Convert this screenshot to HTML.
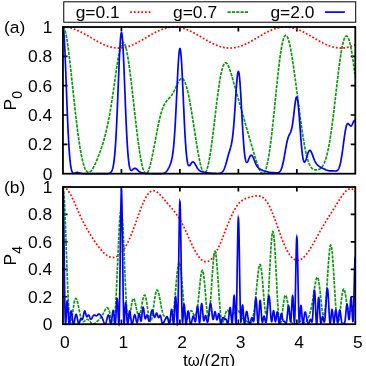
<!DOCTYPE html>
<html lang="en"><head><meta charset="utf-8"><title>chart</title>
<style>html,body{margin:0;padding:0;background:#fff;}body{width:366px;height:366px;overflow:hidden;font-family:"Liberation Sans",sans-serif;}svg{display:block;will-change:transform}</style>
</head><body>
<svg width="366" height="366" viewBox="0 0 366 366" font-family="Liberation Sans, sans-serif" font-size="17.4px" fill="#000">
<rect width="366" height="366" fill="#fff"/>
<path d="M62.95,144.36h4.6 M355.3,144.36h-4.6 M62.95,115.02h4.6 M355.3,115.02h-4.6 M62.95,85.68h4.6 M355.3,85.68h-4.6 M62.95,56.34h4.6 M355.3,56.34h-4.6 M121.42,173.7v-4.6 M121.42,27.0v4.6 M179.89,173.7v-4.6 M179.89,27.0v4.6 M238.36,173.7v-4.6 M238.36,27.0v4.6 M296.83,173.7v-4.6 M296.83,27.0v4.6 " stroke="#000" stroke-width="1.7" fill="none"/>
<g fill="none" stroke-width="1.7" stroke-linejoin="miter" stroke-miterlimit="10">
<path d="M62.95,27.00 L63.65,27.01 L64.47,27.04 L65.17,27.08 L65.99,27.16 L66.69,27.24 L67.51,27.35 L68.33,27.49 L69.15,27.64 L69.85,27.80 L70.67,27.99 L71.49,28.21 L72.31,28.44 L73.12,28.70 L73.94,28.98 L74.76,29.27 L75.58,29.58 L76.40,29.91 L77.22,30.25 L78.04,30.61 L78.97,31.04 L79.91,31.48 L80.84,31.94 L81.78,32.42 L82.71,32.91 L83.65,33.42 L84.58,33.93 L85.52,34.46 L86.57,35.06 L88.68,36.29 L92.54,38.58 L94.06,39.47 L95.69,40.42 L97.21,41.28 L98.85,42.17 L99.67,42.60 L100.49,43.02 L101.31,43.43 L102.01,43.77 L102.83,44.16 L103.53,44.48 L104.46,44.88 L105.28,45.22 L106.22,45.59 L107.04,45.90 L107.85,46.18 L108.67,46.45 L109.49,46.70 L110.31,46.92 L111.13,47.13 L111.95,47.32 L112.77,47.48 L113.59,47.63 L114.40,47.75 L115.22,47.85 L116.04,47.93 L116.74,47.98 L117.56,48.02 L118.38,48.03 L119.20,48.03 L120.02,48.00 L120.84,47.94 L121.65,47.87 L122.47,47.77 L123.41,47.64 L124.23,47.49 L125.16,47.31 L125.98,47.12 L126.92,46.88 L127.73,46.65 L128.67,46.36 L129.49,46.09 L130.42,45.76 L131.24,45.45 L132.18,45.07 L133.11,44.68 L134.05,44.26 L134.99,43.82 L135.92,43.37 L136.86,42.90 L137.91,42.35 L138.84,41.85 L139.78,41.34 L140.83,40.75 L141.88,40.15 L143.99,38.92 L148.08,36.49 L149.72,35.52 L151.47,34.51 L152.99,33.66 L153.93,33.15 L154.75,32.71 L155.68,32.22 L156.50,31.81 L157.32,31.41 L158.14,31.02 L158.96,30.65 L159.66,30.34 L160.59,29.94 L161.53,29.57 L162.47,29.22 L163.40,28.89 L164.34,28.59 L165.16,28.34 L166.09,28.08 L166.91,27.88 L167.85,27.67 L168.66,27.51 L169.60,27.36 L170.42,27.24 L171.35,27.14 L172.17,27.07 L172.99,27.03 L173.81,27.01 L174.63,27.01 L175.33,27.03 L176.15,27.07 L176.97,27.14 L177.79,27.22 L178.60,27.33 L179.42,27.47 L180.24,27.62 L181.06,27.79 L181.88,27.99 L182.70,28.21 L183.52,28.44 L184.33,28.70 L185.15,28.97 L185.97,29.27 L186.91,29.62 L187.72,29.95 L188.54,30.30 L189.36,30.66 L190.30,31.09 L191.12,31.49 L192.05,31.95 L192.99,32.43 L193.92,32.93 L194.74,33.37 L195.68,33.88 L196.61,34.41 L197.66,35.01 L199.65,36.17 L205.03,39.35 L206.67,40.30 L208.07,41.09 L209.71,41.99 L211.23,42.79 L212.05,43.20 L212.75,43.55 L213.45,43.89 L214.15,44.21 L215.09,44.63 L215.91,44.98 L216.73,45.32 L217.54,45.64 L218.36,45.94 L219.18,46.22 L220.00,46.49 L220.70,46.70 L221.52,46.93 L222.22,47.11 L223.04,47.30 L223.74,47.44 L224.56,47.60 L225.26,47.71 L226.08,47.82 L226.78,47.90 L227.72,47.97 L228.54,48.02 L229.36,48.04 L230.29,48.04 L231.11,48.01 L232.05,47.95 L232.98,47.86 L233.92,47.74 L234.73,47.62 L235.67,47.45 L236.61,47.25 L237.54,47.03 L238.48,46.78 L239.41,46.50 L240.35,46.20 L241.28,45.87 L242.22,45.52 L243.15,45.15 L244.09,44.76 L245.03,44.35 L245.96,43.92 L247.01,43.41 L247.95,42.94 L249.00,42.40 L249.94,41.90 L250.99,41.33 L252.04,40.74 L253.09,40.14 L255.32,38.84 L259.41,36.41 L261.05,35.45 L262.80,34.44 L264.32,33.59 L265.26,33.07 L266.07,32.64 L266.89,32.21 L267.71,31.80 L268.53,31.39 L269.23,31.06 L270.05,30.68 L270.75,30.37 L271.69,29.97 L272.62,29.60 L273.56,29.24 L274.38,28.95 L275.31,28.65 L276.13,28.39 L277.07,28.13 L277.89,27.93 L278.82,27.71 L279.64,27.55 L280.46,27.41 L281.28,27.29 L282.10,27.19 L282.91,27.11 L283.73,27.06 L284.55,27.02 L285.49,27.01 L286.31,27.03 L287.12,27.07 L288.06,27.14 L288.88,27.22 L289.81,27.35 L290.63,27.48 L291.57,27.65 L292.39,27.83 L293.32,28.06 L294.26,28.31 L295.19,28.59 L296.13,28.90 L297.06,29.23 L298.00,29.58 L298.93,29.96 L299.75,30.30 L300.57,30.66 L301.39,31.04 L302.21,31.43 L303.03,31.83 L303.96,32.31 L304.90,32.80 L305.83,33.31 L307.47,34.22 L309.34,35.29 L311.10,36.32 L315.66,39.02 L317.06,39.84 L318.23,40.51 L319.63,41.30 L320.92,42.00 L322.09,42.62 L323.26,43.21 L323.96,43.56 L324.66,43.90 L325.95,44.48 L326.65,44.79 L327.23,45.04 L328.40,45.51 L329.11,45.77 L329.69,45.98 L330.27,46.18 L330.86,46.37 L331.44,46.56 L332.03,46.73 L332.61,46.89 L333.20,47.05 L333.90,47.22 L334.60,47.37 L335.30,47.51 L336.00,47.63 L336.71,47.74 L337.41,47.83 L338.11,47.91 L338.69,47.96 L339.40,48.00 L340.10,48.03 L340.80,48.04 L341.38,48.04 L341.97,48.02 L342.67,47.99 L343.37,47.94 L344.07,47.88 L344.66,47.81 L345.36,47.72 L346.06,47.60 L346.76,47.48 L347.47,47.33 L348.17,47.17 L348.87,47.00 L349.57,46.81 L350.27,46.61 L350.97,46.39 L351.67,46.16 L352.38,45.91 L353.08,45.65 L353.78,45.38 L354.48,45.10 L355.30,44.75" stroke="#ff0000" stroke-dasharray="1.7 2.0"/>
<path d="M62.95,27.00 L63.07,27.01 L63.18,27.05 L63.30,27.10 L63.42,27.18 L63.53,27.28 L63.65,27.41 L63.77,27.56 L63.89,27.72 L64.00,27.92 L64.12,28.13 L64.24,28.37 L64.35,28.62 L64.47,28.90 L64.70,29.53 L64.94,30.24 L65.05,30.63 L65.29,31.47 L65.52,32.38 L65.64,32.87 L65.87,33.91 L66.22,35.61 L66.58,37.48 L66.81,38.82 L67.16,40.95 L67.51,43.22 L67.86,45.63 L68.33,49.04 L68.56,50.82 L68.91,53.58 L69.50,58.39 L69.85,61.39 L70.20,64.46 L70.78,69.71 L71.37,75.09 L73.71,97.05 L74.64,105.69 L75.23,110.96 L75.70,115.08 L76.16,119.11 L76.63,123.04 L77.22,127.78 L77.68,131.43 L78.15,134.95 L78.62,138.33 L79.09,141.56 L79.56,144.64 L80.02,147.57 L80.49,150.33 L80.84,152.30 L81.08,153.56 L81.31,154.77 L81.54,155.95 L81.78,157.08 L82.01,158.18 L82.25,159.23 L82.48,160.23 L82.71,161.20 L82.95,162.12 L83.18,163.00 L83.41,163.84 L83.65,164.64 L83.88,165.39 L84.12,166.10 L84.35,166.77 L84.58,167.41 L84.82,168.00 L85.05,168.55 L85.29,169.06 L85.52,169.53 L85.75,169.96 L85.99,170.36 L86.10,170.54 L86.34,170.88 L86.57,171.18 L86.81,171.45 L87.04,171.68 L87.27,171.87 L87.51,172.04 L87.74,172.16 L87.98,172.26 L88.09,172.30 L88.33,172.35 L88.44,172.36 L88.68,172.37 L88.79,172.36 L89.03,172.32 L89.14,172.30 L89.38,172.22 L89.61,172.11 L89.85,171.98 L89.96,171.91 L90.20,171.74 L90.31,171.65 L90.55,171.45 L90.90,171.11 L91.13,170.85 L91.37,170.58 L91.72,170.13 L91.95,169.81 L92.19,169.48 L92.42,169.12 L92.65,168.75 L93.12,167.97 L93.59,167.14 L93.82,166.70 L94.17,166.02 L94.64,165.08 L95.23,163.85 L95.81,162.56 L96.51,160.95 L97.10,159.56 L97.80,157.84 L98.50,156.06 L99.20,154.22 L99.90,152.32 L100.49,150.68 L101.07,149.00 L101.66,147.27 L102.24,145.48 L102.83,143.62 L103.41,141.69 L103.88,140.09 L104.35,138.44 L104.81,136.72 L105.17,135.39 L105.52,134.02 L105.87,132.62 L106.22,131.17 L106.57,129.67 L106.92,128.13 L107.27,126.54 L107.62,124.91 L107.97,123.22 L108.32,121.48 L108.91,118.46 L109.49,115.29 L109.84,113.32 L110.19,111.29 L110.66,108.51 L111.25,104.91 L111.83,101.17 L112.42,97.31 L112.88,94.15 L113.47,90.13 L115.34,77.00 L115.92,72.93 L116.51,68.96 L116.98,65.87 L117.44,62.88 L117.91,60.01 L118.38,57.30 L118.61,56.00 L118.85,54.75 L119.20,52.97 L119.43,51.84 L119.67,50.77 L119.90,49.75 L120.25,48.34 L120.48,47.48 L120.72,46.67 L120.95,45.94 L121.19,45.27 L121.30,44.96 L121.54,44.40 L121.77,43.91 L121.89,43.69 L122.00,43.49 L122.12,43.31 L122.24,43.14 L122.36,43.00 L122.47,42.87 L122.59,42.77 L122.71,42.68 L122.82,42.61 L122.94,42.56 L123.06,42.53 L123.17,42.51 L123.29,42.52 L123.41,42.55 L123.52,42.59 L123.64,42.66 L123.76,42.74 L123.88,42.85 L123.99,42.97 L124.11,43.11 L124.23,43.28 L124.34,43.46 L124.46,43.66 L124.58,43.87 L124.69,44.11 L124.93,44.64 L125.05,44.94 L125.28,45.58 L125.40,45.93 L125.63,46.68 L125.75,47.09 L125.98,47.94 L126.10,48.40 L126.33,49.36 L126.68,50.93 L127.03,52.65 L127.38,54.50 L127.73,56.49 L128.09,58.60 L128.44,60.83 L128.67,62.39 L129.02,64.80 L129.37,67.32 L129.72,69.93 L130.07,72.63 L130.42,75.40 L131.13,81.15 L131.71,86.11 L132.41,92.22 L134.75,113.06 L135.69,121.28 L136.15,125.30 L136.62,129.25 L137.09,133.11 L137.44,135.93 L137.91,139.59 L138.26,142.25 L138.73,145.68 L139.08,148.15 L139.55,151.29 L139.90,153.54 L140.25,155.69 L140.60,157.73 L140.95,159.66 L141.30,161.47 L141.65,163.17 L142.00,164.75 L142.35,166.19 L142.70,167.52 L142.94,168.33 L143.05,168.71 L143.29,169.43 L143.52,170.10 L143.64,170.41 L143.87,170.98 L143.99,171.25 L144.22,171.73 L144.34,171.95 L144.57,172.35 L144.69,172.53 L144.81,172.69 L144.92,172.83 L145.04,172.96 L145.16,173.08 L145.28,173.18 L145.39,173.27 L145.51,173.34 L145.63,173.40 L145.74,173.44 L145.86,173.47 L145.98,173.48 L146.09,173.48 L146.21,173.46 L146.33,173.43 L146.45,173.39 L146.56,173.33 L146.68,173.26 L146.80,173.17 L146.91,173.07 L147.03,172.96 L147.15,172.83 L147.26,172.69 L147.50,172.37 L147.73,172.00 L147.85,171.79 L148.08,171.34 L148.32,170.84 L148.43,170.57 L148.67,170.00 L148.90,169.38 L149.25,168.36 L149.49,167.63 L149.84,166.46 L150.07,165.62 L150.42,164.31 L150.66,163.38 L150.89,162.42 L151.12,161.44 L151.47,159.89 L151.71,158.83 L152.06,157.19 L152.64,154.34 L153.23,151.38 L153.81,148.32 L154.40,145.20 L156.03,136.39 L156.97,131.46 L157.44,129.07 L157.91,126.73 L158.37,124.47 L158.84,122.30 L159.43,119.70 L159.89,117.73 L160.36,115.86 L160.83,114.10 L161.30,112.46 L161.53,111.68 L161.76,110.92 L162.00,110.20 L162.23,109.50 L162.47,108.83 L162.70,108.19 L163.05,107.28 L163.40,106.43 L163.75,105.63 L164.10,104.89 L164.45,104.21 L164.80,103.57 L165.16,102.98 L165.39,102.61 L165.62,102.26 L165.97,101.76 L166.32,101.30 L166.68,100.86 L167.03,100.45 L167.38,100.06 L167.73,99.69 L169.01,98.35 L169.48,97.86 L169.95,97.35 L170.42,96.80 L170.89,96.22 L171.35,95.60 L171.82,94.93 L172.29,94.21 L172.76,93.44 L173.22,92.62 L173.69,91.75 L174.16,90.83 L174.63,89.88 L175.10,88.90 L176.73,85.36 L177.32,84.12 L177.67,83.40 L178.02,82.72 L178.37,82.06 L178.60,81.64 L178.95,81.06 L179.31,80.52 L179.66,80.03 L179.89,79.74 L180.01,79.61 L180.24,79.36 L180.36,79.25 L180.59,79.05 L180.83,78.88 L180.94,78.81 L181.18,78.69 L181.29,78.65 L181.41,78.61 L181.53,78.58 L181.64,78.56 L181.76,78.56 L181.88,78.56 L181.99,78.57 L182.11,78.59 L182.23,78.62 L182.35,78.66 L182.46,78.71 L182.58,78.77 L182.70,78.84 L182.81,78.92 L182.93,79.01 L183.16,79.22 L183.40,79.48 L183.52,79.62 L183.75,79.94 L183.87,80.11 L183.98,80.30 L184.22,80.70 L184.33,80.92 L184.57,81.38 L184.68,81.63 L184.92,82.16 L185.27,83.03 L185.50,83.66 L185.74,84.33 L186.09,85.41 L186.44,86.58 L186.79,87.83 L187.02,88.72 L187.26,89.64 L187.61,91.08 L188.08,93.12 L188.43,94.73 L188.89,96.99 L189.25,98.76 L189.71,101.21 L190.18,103.76 L190.65,106.40 L191.12,109.13 L191.58,111.92 L192.05,114.78 L192.52,117.68 L193.46,123.62 L195.79,138.68 L196.50,143.10 L197.08,146.68 L197.78,150.83 L198.13,152.83 L198.48,154.77 L198.83,156.64 L199.07,157.85 L199.42,159.59 L199.65,160.71 L200.00,162.32 L200.35,163.84 L200.71,165.26 L201.06,166.57 L201.41,167.77 L201.76,168.87 L201.99,169.53 L202.11,169.84 L202.34,170.42 L202.58,170.94 L202.69,171.18 L202.93,171.62 L203.04,171.81 L203.16,171.99 L203.28,172.16 L203.39,172.31 L203.51,172.45 L203.63,172.57 L203.75,172.67 L203.86,172.76 L203.98,172.83 L204.10,172.89 L204.21,172.94 L204.33,172.96 L204.45,172.97 L204.56,172.97 L204.68,172.95 L204.80,172.91 L204.92,172.85 L205.03,172.78 L205.15,172.70 L205.27,172.60 L205.38,172.48 L205.50,172.34 L205.62,172.19 L205.73,172.02 L205.85,171.84 L206.08,171.42 L206.32,170.94 L206.44,170.68 L206.67,170.10 L206.79,169.79 L207.02,169.12 L207.14,168.76 L207.37,167.99 L207.60,167.16 L207.96,165.80 L208.31,164.30 L208.66,162.68 L208.89,161.52 L209.24,159.69 L209.59,157.73 L209.94,155.66 L210.18,154.21 L210.53,151.96 L210.76,150.41 L211.11,147.99 L211.70,143.78 L212.05,141.14 L212.40,138.44 L212.98,133.80 L213.69,128.07 L215.67,111.38 L216.49,104.61 L216.96,100.83 L217.31,98.05 L217.66,95.34 L218.01,92.69 L218.48,89.28 L218.83,86.83 L219.18,84.47 L219.53,82.21 L219.88,80.05 L220.23,78.01 L220.59,76.08 L220.94,74.28 L221.17,73.14 L221.40,72.07 L221.75,70.56 L222.11,69.18 L222.34,68.34 L222.46,67.94 L222.69,67.19 L222.81,66.83 L222.92,66.49 L223.16,65.86 L223.27,65.57 L223.51,65.02 L223.63,64.77 L223.86,64.32 L223.98,64.12 L224.21,63.75 L224.33,63.59 L224.44,63.44 L224.56,63.31 L224.68,63.19 L224.79,63.09 L224.91,63.00 L225.03,62.93 L225.15,62.86 L225.26,62.82 L225.38,62.78 L225.50,62.76 L225.61,62.75 L225.73,62.76 L225.85,62.78 L225.96,62.81 L226.08,62.85 L226.20,62.91 L226.32,62.97 L226.43,63.05 L226.55,63.15 L226.67,63.25 L226.90,63.49 L227.13,63.78 L227.37,64.10 L227.60,64.47 L227.84,64.88 L228.07,65.32 L228.30,65.80 L228.54,66.32 L228.89,67.14 L229.12,67.73 L229.36,68.35 L229.59,68.99 L229.94,69.99 L230.17,70.69 L230.53,71.77 L230.88,72.88 L231.23,74.03 L231.93,76.40 L232.63,78.84 L235.20,87.97 L236.49,92.50 L237.54,96.16 L240.00,104.64 L241.40,109.54 L242.92,114.92 L246.66,128.28 L247.72,131.99 L248.77,135.66 L249.82,139.28 L250.99,143.25 L252.51,148.38 L253.91,153.08 L254.85,156.18 L255.55,158.48 L256.13,160.35 L256.72,162.17 L257.19,163.59 L257.66,164.96 L258.12,166.27 L258.59,167.51 L258.82,168.10 L259.06,168.67 L259.41,169.48 L259.76,170.24 L260.11,170.93 L260.46,171.55 L260.70,171.93 L260.81,172.11 L261.05,172.43 L261.16,172.58 L261.40,172.86 L261.51,172.98 L261.75,173.19 L261.86,173.28 L261.98,173.37 L262.10,173.44 L262.22,173.50 L262.33,173.55 L262.45,173.59 L262.57,173.61 L262.68,173.63 L262.80,173.64 L262.92,173.63 L263.03,173.61 L263.15,173.58 L263.27,173.54 L263.39,173.48 L263.50,173.42 L263.62,173.34 L263.74,173.25 L263.85,173.14 L263.97,173.03 L264.09,172.89 L264.20,172.75 L264.32,172.59 L264.44,172.42 L264.67,172.04 L264.91,171.61 L265.14,171.12 L265.26,170.85 L265.49,170.28 L265.61,169.97 L265.84,169.31 L265.96,168.96 L266.19,168.22 L266.43,167.41 L266.78,166.10 L267.13,164.66 L267.48,163.08 L267.83,161.37 L268.18,159.54 L268.53,157.58 L268.76,156.20 L269.00,154.77 L269.35,152.51 L269.70,150.14 L270.05,147.65 L270.52,144.16 L270.87,141.41 L271.22,138.57 L271.57,135.63 L272.04,131.57 L272.39,128.43 L272.74,125.22 L273.56,117.48 L274.38,109.49 L276.48,88.61 L277.07,82.93 L277.65,77.40 L278.24,72.05 L278.82,66.94 L279.17,64.01 L279.41,62.11 L279.76,59.35 L279.99,57.58 L280.34,55.04 L280.69,52.62 L281.04,50.35 L281.28,48.91 L281.63,46.88 L281.98,45.01 L282.33,43.29 L282.56,42.24 L282.80,41.26 L282.91,40.79 L283.15,39.92 L283.26,39.52 L283.50,38.76 L283.62,38.41 L283.85,37.76 L284.08,37.19 L284.20,36.93 L284.32,36.69 L284.43,36.47 L284.55,36.27 L284.67,36.09 L284.79,35.93 L284.90,35.78 L285.02,35.65 L285.14,35.55 L285.25,35.46 L285.37,35.39 L285.49,35.34 L285.60,35.30 L285.72,35.28 L285.84,35.29 L285.95,35.31 L286.07,35.34 L286.19,35.40 L286.31,35.47 L286.42,35.56 L286.54,35.67 L286.66,35.80 L286.77,35.94 L286.89,36.10 L287.01,36.27 L287.12,36.47 L287.24,36.67 L287.47,37.14 L287.71,37.67 L287.94,38.26 L288.06,38.58 L288.29,39.26 L288.41,39.63 L288.64,40.40 L289.00,41.66 L289.23,42.56 L289.46,43.52 L289.81,45.05 L290.05,46.13 L290.28,47.26 L290.52,48.43 L290.75,49.65 L291.22,52.20 L291.57,54.21 L291.92,56.31 L292.27,58.48 L292.74,61.47 L293.09,63.80 L293.56,66.98 L293.91,69.43 L294.37,72.77 L295.19,78.77 L296.01,84.95 L296.83,91.23 L298.82,106.62 L299.87,114.63 L300.46,118.99 L300.92,122.41 L301.39,125.75 L301.86,129.01 L302.44,132.96 L302.91,136.00 L303.38,138.93 L303.85,141.74 L304.31,144.42 L304.78,146.97 L305.25,149.37 L305.60,151.08 L306.07,153.23 L306.30,154.24 L306.54,155.22 L306.89,156.62 L307.12,157.51 L307.35,158.36 L307.71,159.56 L307.94,160.32 L308.17,161.04 L308.41,161.72 L308.64,162.37 L308.87,162.99 L309.11,163.57 L309.34,164.11 L309.58,164.63 L309.81,165.11 L310.04,165.56 L310.28,165.99 L310.51,166.38 L310.75,166.75 L310.98,167.09 L311.21,167.40 L311.45,167.69 L311.68,167.96 L312.03,168.32 L312.27,168.54 L312.50,168.73 L312.73,168.91 L313.08,169.14 L313.32,169.28 L313.55,169.40 L313.79,169.50 L314.14,169.64 L314.37,169.71 L314.60,169.78 L314.84,169.83 L315.19,169.90 L315.42,169.93 L315.77,169.95 L316.01,169.96 L316.36,169.96 L316.71,169.95 L317.06,169.91 L317.41,169.86 L317.65,169.82 L318.00,169.74 L318.23,169.67 L318.46,169.60 L318.70,169.52 L319.05,169.38 L319.28,169.27 L319.52,169.15 L319.75,169.02 L319.98,168.88 L320.22,168.72 L320.45,168.56 L320.69,168.37 L320.92,168.17 L321.15,167.96 L321.39,167.72 L321.62,167.47 L321.86,167.20 L322.09,166.91 L322.44,166.44 L322.79,165.91 L323.14,165.33 L323.49,164.70 L323.84,164.00 L324.19,163.25 L324.54,162.42 L324.90,161.53 L325.25,160.57 L325.60,159.53 L325.95,158.42 L326.30,157.23 L326.65,155.96 L327.00,154.60 L327.23,153.65 L327.59,152.15 L327.82,151.10 L328.17,149.45 L328.40,148.31 L328.87,145.89 L329.11,144.63 L329.46,142.65 L329.69,141.29 L330.04,139.17 L330.27,137.70 L330.63,135.44 L330.86,133.88 L331.21,131.47 L331.80,127.29 L332.26,123.79 L332.85,119.25 L333.32,115.49 L333.90,110.66 L334.84,102.71 L337.17,82.41 L337.76,77.45 L338.34,72.62 L338.93,67.96 L339.40,64.38 L339.75,61.79 L339.98,60.12 L340.45,56.90 L340.80,54.60 L341.03,53.14 L341.27,51.72 L341.50,50.36 L341.85,48.42 L342.09,47.20 L342.32,46.04 L342.55,44.93 L342.90,43.39 L343.14,42.44 L343.37,41.55 L343.61,40.73 L343.84,39.97 L343.96,39.62 L344.19,38.96 L344.42,38.37 L344.66,37.84 L344.89,37.38 L345.01,37.17 L345.13,36.98 L345.24,36.81 L345.36,36.65 L345.48,36.52 L345.59,36.39 L345.71,36.29 L345.83,36.20 L345.94,36.13 L346.06,36.07 L346.18,36.04 L346.30,36.01 L346.41,36.01 L346.53,36.02 L346.65,36.05 L346.76,36.09 L346.88,36.15 L347.00,36.23 L347.11,36.32 L347.23,36.43 L347.35,36.56 L347.47,36.70 L347.58,36.86 L347.70,37.03 L347.82,37.23 L348.05,37.65 L348.17,37.89 L348.40,38.41 L348.63,39.00 L348.75,39.31 L348.99,39.98 L349.10,40.34 L349.34,41.11 L349.69,42.36 L349.92,43.27 L350.27,44.74 L350.62,46.34 L350.97,48.05 L351.32,49.89 L351.67,51.84 L352.03,53.90 L352.38,56.06 L352.73,58.33 L353.08,60.70 L353.43,63.17 L353.78,65.72 L354.13,68.37 L354.48,71.09 L354.83,73.90 L355.30,77.74" stroke="#109610" stroke-dasharray="3.2 1.1"/>
<path d="M62.95,27.00 L63.07,27.09 L63.18,27.37 L63.30,27.83 L63.42,28.48 L63.53,29.30 L63.65,30.30 L63.77,31.47 L63.89,32.81 L64.00,34.32 L64.12,35.98 L64.24,37.79 L64.35,39.75 L64.59,44.07 L64.70,46.42 L64.94,51.46 L65.17,56.89 L65.41,62.64 L65.76,71.70 L66.69,96.83 L67.04,106.02 L67.39,114.80 L67.74,123.06 L67.98,128.23 L68.21,133.10 L68.45,137.65 L68.56,139.81 L68.80,143.89 L68.91,145.81 L69.03,147.64 L69.26,151.08 L69.38,152.67 L69.62,155.64 L69.85,158.31 L70.08,160.69 L70.32,162.80 L70.55,164.66 L70.67,165.50 L70.78,166.28 L70.90,167.01 L71.02,167.68 L71.14,168.31 L71.25,168.88 L71.37,169.41 L71.49,169.90 L71.60,170.34 L71.72,170.75 L71.84,171.11 L71.95,171.44 L72.07,171.74 L72.19,172.00 L72.31,172.24 L72.42,172.45 L72.54,172.63 L72.66,172.79 L72.77,172.92 L72.89,173.03 L73.01,173.13 L73.12,173.20 L73.24,173.26 L73.36,173.31 L73.47,173.34 L73.59,173.35 L73.71,173.36 L73.83,173.36 L74.06,173.33 L74.29,173.27 L74.53,173.19 L74.76,173.10 L75.58,172.76 L75.81,172.67 L76.05,172.60 L76.40,172.51 L76.63,172.47 L76.87,172.44 L77.22,172.43 L77.45,172.44 L77.68,172.46 L77.92,172.49 L78.27,172.56 L78.50,172.61 L78.85,172.70 L79.91,173.01 L80.37,173.13 L80.96,173.27 L81.43,173.36 L81.89,173.43 L82.48,173.49 L83.18,173.55 L83.88,173.58 L84.82,173.61 L86.22,173.63 L87.98,173.66 L89.50,173.67 L95.46,173.69 L102.24,173.70 L104.35,173.69 L105.87,173.67 L106.45,173.66 L107.04,173.64 L107.50,173.61 L107.85,173.58 L108.32,173.52 L108.67,173.47 L109.02,173.39 L109.38,173.29 L109.73,173.16 L109.96,173.04 L110.19,172.91 L110.31,172.83 L110.54,172.65 L110.78,172.44 L111.01,172.19 L111.25,171.89 L111.36,171.72 L111.48,171.54 L111.60,171.34 L111.71,171.12 L111.83,170.88 L111.95,170.63 L112.06,170.35 L112.18,170.06 L112.30,169.74 L112.42,169.39 L112.53,169.02 L112.65,168.61 L112.77,168.18 L112.88,167.72 L113.00,167.22 L113.23,166.12 L113.47,164.86 L113.70,163.42 L113.94,161.79 L114.05,160.89 L114.29,158.94 L114.52,156.75 L114.75,154.32 L114.87,153.00 L115.11,150.16 L115.22,148.63 L115.46,145.36 L115.57,143.61 L115.81,139.89 L115.92,137.92 L116.16,133.75 L116.51,126.94 L116.86,119.50 L117.21,111.50 L117.56,103.05 L118.61,76.44 L119.08,65.01 L119.43,57.06 L119.67,52.18 L119.78,49.90 L120.02,45.68 L120.13,43.75 L120.25,41.97 L120.37,40.32 L120.48,38.82 L120.60,37.47 L120.72,36.29 L120.84,35.26 L120.95,34.41 L121.07,33.72 L121.19,33.21 L121.30,32.87 L121.42,32.71 L121.54,32.73 L121.65,32.92 L121.77,33.29 L121.89,33.84 L122.00,34.56 L122.12,35.45 L122.24,36.50 L122.36,37.73 L122.47,39.11 L122.59,40.64 L122.71,42.32 L122.82,44.15 L123.06,48.20 L123.17,50.41 L123.41,55.16 L123.64,60.31 L123.88,65.78 L124.34,77.41 L125.16,98.59 L125.51,107.47 L125.86,115.97 L126.21,123.98 L126.57,131.39 L126.80,135.96 L126.92,138.13 L127.15,142.24 L127.27,144.17 L127.38,146.02 L127.62,149.48 L127.73,151.09 L127.97,154.08 L128.20,156.76 L128.44,159.15 L128.55,160.23 L128.79,162.19 L128.90,163.08 L129.02,163.90 L129.14,164.65 L129.25,165.35 L129.37,166.00 L129.49,166.58 L129.61,167.12 L129.72,167.60 L129.84,168.04 L129.96,168.43 L130.07,168.78 L130.19,169.08 L130.31,169.35 L130.42,169.58 L130.54,169.77 L130.66,169.93 L130.78,170.07 L130.89,170.17 L131.01,170.25 L131.13,170.30 L131.24,170.33 L131.36,170.34 L131.48,170.33 L131.59,170.31 L131.71,170.27 L131.83,170.21 L131.94,170.15 L132.18,169.99 L132.41,169.80 L133.11,169.18 L133.46,168.89 L133.70,168.72 L133.82,168.64 L134.05,168.51 L134.28,168.41 L134.40,168.37 L134.52,168.34 L134.63,168.32 L134.75,168.31 L134.87,168.30 L134.99,168.31 L135.10,168.32 L135.22,168.35 L135.34,168.38 L135.57,168.46 L135.69,168.52 L135.92,168.65 L136.04,168.72 L136.27,168.89 L136.51,169.08 L136.86,169.39 L137.21,169.72 L138.14,170.64 L138.61,171.08 L138.96,171.37 L139.19,171.55 L139.55,171.80 L139.78,171.96 L140.01,172.09 L140.36,172.28 L140.60,172.38 L140.95,172.52 L141.30,172.64 L141.65,172.74 L142.00,172.83 L142.47,172.92 L142.82,172.98 L143.29,173.05 L144.22,173.17 L145.39,173.28 L146.56,173.37 L147.61,173.43 L148.78,173.48 L152.88,173.60 L154.40,173.64 L156.03,173.65 L157.79,173.66 L159.07,173.65 L160.13,173.62 L161.18,173.58 L162.00,173.52 L162.35,173.49 L162.70,173.45 L163.05,173.40 L163.28,173.35 L163.64,173.27 L163.87,173.21 L164.10,173.13 L164.34,173.04 L164.57,172.94 L164.80,172.83 L165.04,172.69 L165.27,172.54 L165.62,172.27 L165.86,172.07 L166.09,171.85 L166.44,171.48 L166.79,171.05 L167.03,170.74 L167.26,170.41 L167.49,170.06 L167.73,169.68 L167.96,169.29 L168.20,168.88 L168.43,168.45 L168.66,168.00 L168.90,167.53 L169.13,167.05 L169.37,166.54 L169.60,166.01 L169.95,165.18 L170.30,164.27 L170.65,163.28 L170.89,162.56 L171.00,162.18 L171.24,161.37 L171.47,160.49 L171.59,160.01 L171.82,158.99 L172.06,157.87 L172.29,156.62 L172.52,155.24 L172.76,153.70 L172.99,151.98 L173.22,150.08 L173.46,147.98 L173.69,145.65 L173.93,143.10 L174.04,141.73 L174.28,138.80 L174.39,137.24 L174.51,135.62 L174.74,132.18 L175.10,126.54 L175.45,120.35 L175.80,113.66 L176.15,106.57 L176.50,99.19 L177.20,84.17 L177.67,74.56 L178.02,67.91 L178.25,63.85 L178.37,61.96 L178.60,58.49 L178.72,56.92 L178.84,55.47 L178.95,54.14 L179.07,52.95 L179.19,51.90 L179.31,50.98 L179.42,50.21 L179.54,49.59 L179.66,49.11 L179.77,48.79 L179.89,48.63 L180.01,48.62 L180.12,48.76 L180.24,49.06 L180.36,49.52 L180.47,50.13 L180.59,50.89 L180.71,51.79 L180.83,52.85 L180.94,54.04 L181.06,55.37 L181.18,56.83 L181.29,58.42 L181.41,60.13 L181.53,61.96 L181.76,65.93 L181.99,70.28 L182.23,74.95 L182.46,79.87 L182.70,85.00 L183.75,108.90 L184.22,119.10 L184.45,123.93 L184.68,128.55 L184.92,132.92 L185.15,137.02 L185.39,140.85 L185.50,142.65 L185.74,146.03 L185.97,149.12 L186.20,151.90 L186.44,154.39 L186.67,156.60 L186.79,157.60 L186.91,158.53 L187.02,159.39 L187.14,160.19 L187.26,160.92 L187.37,161.60 L187.49,162.21 L187.61,162.77 L187.72,163.27 L187.84,163.72 L187.96,164.11 L188.08,164.46 L188.19,164.76 L188.31,165.02 L188.43,165.23 L188.54,165.41 L188.66,165.54 L188.78,165.64 L188.89,165.71 L189.01,165.75 L189.13,165.75 L189.25,165.74 L189.36,165.69 L189.48,165.63 L189.60,165.54 L189.71,165.43 L189.83,165.31 L189.95,165.18 L190.18,164.88 L190.41,164.54 L191.12,163.47 L191.47,162.97 L191.70,162.68 L191.82,162.54 L191.93,162.42 L192.05,162.31 L192.17,162.21 L192.29,162.13 L192.40,162.06 L192.52,162.00 L192.64,161.95 L192.75,161.92 L192.87,161.91 L192.99,161.91 L193.10,161.92 L193.22,161.95 L193.34,161.99 L193.46,162.05 L193.57,162.12 L193.69,162.20 L193.81,162.30 L193.92,162.40 L194.04,162.53 L194.27,162.80 L194.39,162.95 L194.62,163.29 L194.86,163.65 L195.21,164.25 L195.56,164.88 L196.50,166.61 L196.85,167.23 L197.08,167.63 L197.43,168.18 L197.66,168.52 L198.02,169.00 L198.25,169.29 L198.48,169.55 L198.83,169.91 L199.19,170.23 L199.54,170.51 L199.89,170.75 L200.12,170.89 L200.35,171.02 L200.71,171.20 L201.17,171.41 L201.52,171.55 L201.87,171.67 L202.23,171.78 L202.69,171.92 L203.16,172.05 L203.63,172.17 L204.10,172.28 L204.56,172.38 L205.50,172.55 L205.97,172.63 L206.55,172.71 L207.60,172.85 L209.12,173.02 L210.88,173.20 L211.58,173.26 L212.28,173.31 L213.57,173.38 L215.56,173.46 L216.96,173.49 L217.43,173.49 L217.90,173.49 L218.36,173.47 L218.71,173.44 L219.06,173.41 L219.42,173.36 L219.88,173.27 L220.12,173.21 L220.35,173.14 L220.59,173.06 L220.82,172.97 L221.17,172.80 L221.40,172.67 L221.52,172.60 L221.75,172.43 L221.87,172.34 L222.11,172.14 L222.22,172.03 L222.46,171.79 L222.69,171.52 L222.81,171.37 L223.04,171.05 L223.27,170.70 L223.39,170.50 L223.63,170.09 L223.86,169.63 L223.98,169.39 L224.21,168.87 L224.44,168.31 L224.68,167.71 L224.91,167.07 L225.26,166.04 L225.61,164.92 L225.96,163.74 L226.55,161.66 L227.72,157.32 L228.30,155.21 L228.65,153.98 L229.00,152.79 L230.17,148.92 L230.53,147.69 L230.76,146.83 L230.99,145.91 L231.23,144.91 L231.46,143.83 L231.69,142.64 L231.93,141.33 L232.05,140.63 L232.28,139.11 L232.40,138.29 L232.63,136.52 L232.86,134.57 L233.10,132.43 L233.21,131.28 L233.33,130.09 L233.57,127.55 L233.80,124.82 L234.03,121.89 L234.38,117.18 L234.73,112.12 L235.09,106.80 L235.90,94.13 L236.26,88.95 L236.61,84.16 L236.84,81.26 L236.96,79.93 L237.07,78.67 L237.19,77.50 L237.31,76.42 L237.42,75.43 L237.54,74.55 L237.66,73.78 L237.78,73.11 L237.89,72.55 L238.01,72.11 L238.13,71.79 L238.24,71.59 L238.36,71.52 L238.48,71.56 L238.59,71.73 L238.71,72.02 L238.83,72.44 L238.94,72.98 L239.06,73.64 L239.18,74.41 L239.30,75.31 L239.41,76.31 L239.53,77.43 L239.65,78.65 L239.76,79.97 L239.88,81.39 L240.00,82.90 L240.23,86.18 L240.46,89.76 L240.70,93.59 L240.93,97.62 L241.17,101.81 L242.10,119.05 L242.57,127.34 L242.80,131.27 L243.04,135.01 L243.27,138.54 L243.51,141.85 L243.74,144.91 L243.86,146.35 L244.09,149.02 L244.32,151.44 L244.56,153.60 L244.79,155.49 L244.91,156.34 L245.03,157.13 L245.14,157.85 L245.26,158.52 L245.38,159.13 L245.49,159.67 L245.61,160.16 L245.73,160.60 L245.84,160.98 L245.96,161.32 L246.08,161.60 L246.19,161.83 L246.31,162.02 L246.43,162.17 L246.55,162.27 L246.66,162.33 L246.78,162.36 L246.90,162.35 L247.01,162.31 L247.13,162.23 L247.25,162.13 L247.36,162.00 L247.48,161.85 L247.60,161.67 L247.72,161.47 L247.95,161.02 L248.07,160.78 L248.30,160.25 L248.53,159.70 L249.12,158.27 L249.47,157.46 L249.70,156.96 L249.82,156.73 L250.05,156.31 L250.17,156.12 L250.29,155.94 L250.40,155.79 L250.52,155.65 L250.64,155.53 L250.76,155.43 L250.87,155.34 L250.99,155.28 L251.11,155.24 L251.22,155.21 L251.34,155.21 L251.46,155.23 L251.57,155.26 L251.69,155.32 L251.81,155.39 L251.93,155.48 L252.04,155.60 L252.16,155.72 L252.28,155.87 L252.39,156.03 L252.63,156.40 L252.74,156.61 L252.98,157.06 L253.21,157.55 L253.56,158.36 L253.91,159.22 L254.73,161.31 L255.08,162.18 L255.43,163.02 L255.78,163.80 L256.13,164.53 L256.49,165.20 L256.84,165.80 L257.07,166.17 L257.30,166.51 L257.54,166.82 L257.77,167.12 L258.01,167.38 L258.24,167.63 L258.47,167.86 L258.71,168.08 L258.94,168.28 L259.29,168.55 L259.53,168.72 L259.88,168.95 L260.23,169.17 L260.58,169.37 L260.93,169.56 L261.40,169.79 L261.75,169.95 L262.22,170.16 L262.92,170.45 L263.62,170.71 L264.44,170.98 L265.26,171.23 L266.31,171.51 L267.60,171.84 L268.65,172.08 L269.47,172.24 L270.05,172.34 L270.52,172.41 L271.10,172.48 L271.69,172.54 L272.27,172.58 L273.91,172.68 L275.78,172.82 L276.37,172.85 L276.83,172.84 L277.18,172.83 L277.53,172.79 L277.89,172.72 L278.24,172.62 L278.47,172.53 L278.59,172.48 L278.82,172.36 L279.06,172.22 L279.29,172.05 L279.52,171.85 L279.76,171.62 L279.99,171.35 L280.22,171.04 L280.46,170.68 L280.69,170.28 L280.93,169.83 L281.04,169.58 L281.28,169.05 L281.39,168.76 L281.63,168.14 L281.86,167.45 L282.10,166.70 L282.33,165.89 L282.56,165.01 L282.80,164.07 L283.15,162.54 L283.38,161.45 L283.62,160.30 L283.85,159.10 L284.08,157.85 L284.55,155.26 L285.84,147.91 L286.19,145.99 L286.42,144.76 L286.77,143.01 L287.01,141.92 L287.36,140.41 L287.59,139.49 L287.83,138.64 L288.06,137.86 L288.29,137.16 L288.41,136.83 L288.64,136.22 L288.88,135.67 L289.00,135.41 L289.23,134.92 L289.46,134.47 L290.05,133.37 L290.40,132.66 L290.63,132.13 L290.87,131.54 L291.10,130.87 L291.33,130.10 L291.57,129.22 L291.80,128.22 L292.04,127.09 L292.15,126.48 L292.39,125.14 L292.62,123.67 L292.74,122.88 L292.97,121.21 L293.20,119.42 L293.56,116.55 L294.49,108.40 L294.84,105.46 L295.08,103.64 L295.19,102.78 L295.43,101.20 L295.54,100.48 L295.66,99.82 L295.78,99.22 L295.89,98.69 L296.01,98.22 L296.13,97.83 L296.25,97.51 L296.36,97.27 L296.48,97.10 L296.60,97.02 L296.71,97.03 L296.83,97.12 L296.95,97.29 L297.06,97.55 L297.18,97.90 L297.30,98.34 L297.41,98.86 L297.53,99.47 L297.65,100.16 L297.77,100.93 L297.88,101.79 L298.00,102.72 L298.12,103.72 L298.35,105.94 L298.47,107.15 L298.70,109.74 L298.93,112.53 L299.17,115.50 L299.52,120.18 L300.57,134.66 L300.92,139.24 L301.16,142.13 L301.51,146.18 L301.74,148.65 L301.98,150.92 L302.21,152.99 L302.44,154.85 L302.68,156.48 L302.79,157.22 L302.91,157.90 L303.03,158.53 L303.14,159.10 L303.26,159.62 L303.38,160.08 L303.50,160.50 L303.61,160.86 L303.73,161.18 L303.85,161.44 L303.96,161.66 L304.08,161.83 L304.20,161.96 L304.31,162.05 L304.43,162.09 L304.55,162.09 L304.66,162.06 L304.78,161.99 L304.90,161.88 L305.02,161.75 L305.13,161.58 L305.25,161.38 L305.37,161.15 L305.48,160.90 L305.60,160.63 L305.83,160.02 L305.95,159.69 L306.19,158.98 L306.54,157.83 L307.35,155.05 L307.71,153.93 L307.94,153.23 L308.17,152.59 L308.41,152.02 L308.52,151.76 L308.64,151.52 L308.76,151.30 L308.87,151.10 L308.99,150.93 L309.11,150.77 L309.23,150.64 L309.34,150.53 L309.46,150.45 L309.58,150.38 L309.69,150.34 L309.81,150.33 L309.93,150.34 L310.04,150.37 L310.16,150.42 L310.28,150.49 L310.40,150.59 L310.51,150.70 L310.63,150.84 L310.75,150.99 L310.86,151.17 L310.98,151.36 L311.10,151.57 L311.33,152.03 L311.45,152.28 L311.68,152.82 L312.03,153.71 L312.38,154.66 L313.44,157.61 L313.79,158.55 L314.14,159.45 L314.49,160.28 L314.84,161.05 L315.07,161.52 L315.42,162.18 L315.77,162.78 L316.13,163.31 L316.48,163.79 L316.71,164.09 L316.94,164.36 L317.29,164.74 L317.53,164.97 L317.76,165.19 L318.00,165.40 L318.23,165.59 L318.46,165.78 L318.81,166.05 L319.28,166.38 L319.75,166.68 L320.22,166.98 L320.80,167.32 L321.39,167.65 L321.97,167.96 L322.56,168.27 L323.26,168.61 L324.08,169.00 L324.90,169.37 L325.71,169.73 L326.42,170.02 L327.00,170.25 L327.47,170.41 L327.94,170.55 L328.40,170.67 L328.75,170.74 L329.22,170.81 L329.57,170.85 L330.04,170.88 L330.39,170.89 L330.74,170.90 L332.15,170.87 L332.85,170.88 L333.55,170.90 L334.84,170.98 L335.19,170.98 L335.42,170.98 L335.77,170.96 L336.00,170.93 L336.24,170.89 L336.47,170.82 L336.71,170.74 L336.94,170.63 L337.17,170.49 L337.41,170.32 L337.64,170.11 L337.88,169.86 L338.11,169.56 L338.34,169.22 L338.58,168.81 L338.81,168.35 L339.05,167.82 L339.16,167.53 L339.40,166.90 L339.63,166.19 L339.86,165.40 L339.98,164.97 L340.21,164.06 L340.33,163.57 L340.57,162.53 L340.68,161.98 L340.80,161.40 L341.03,160.19 L341.38,158.21 L341.73,156.06 L342.09,153.76 L342.44,151.32 L342.79,148.77 L343.84,140.88 L344.19,138.31 L344.42,136.65 L344.66,135.04 L345.01,132.78 L345.24,131.37 L345.48,130.06 L345.71,128.86 L345.83,128.30 L346.06,127.28 L346.30,126.37 L346.41,125.97 L346.53,125.60 L346.65,125.25 L346.76,124.95 L346.88,124.67 L347.00,124.43 L347.11,124.21 L347.23,124.03 L347.35,123.88 L347.47,123.75 L347.58,123.66 L347.70,123.59 L347.82,123.55 L347.93,123.54 L348.05,123.55 L348.17,123.58 L348.28,123.63 L348.40,123.70 L348.52,123.79 L348.63,123.89 L348.75,124.01 L348.87,124.13 L349.10,124.41 L349.57,125.02 L349.80,125.31 L350.04,125.57 L350.15,125.68 L350.27,125.78 L350.39,125.86 L350.51,125.93 L350.62,125.98 L350.74,126.01 L350.86,126.02 L350.97,126.01 L351.09,125.98 L351.21,125.93 L351.32,125.86 L351.44,125.76 L351.56,125.64 L351.67,125.50 L351.79,125.34 L351.91,125.15 L352.03,124.95 L352.26,124.50 L352.49,123.99 L352.73,123.45 L353.20,122.32 L353.43,121.79 L353.55,121.54 L353.66,121.31 L353.78,121.10 L353.90,120.90 L354.01,120.74 L354.13,120.60 L354.25,120.50 L354.36,120.43 L354.48,120.40 L354.60,120.40 L354.72,120.45 L354.83,120.55 L354.95,120.68 L355.07,120.87 L355.18,121.10 L355.30,121.39" stroke="#0000ff"/>
</g>
<rect x="62.95" y="27.0" width="292.35" height="146.7" fill="none" stroke="#000" stroke-width="1.8"/>
<text x="52.3" y="179.75" text-anchor="end">0</text>
<text x="52.3" y="150.41" text-anchor="end">0.2</text>
<text x="52.3" y="121.07" text-anchor="end">0.4</text>
<text x="52.3" y="91.73" text-anchor="end">0.6</text>
<text x="52.3" y="62.39" text-anchor="end">0.8</text>
<text x="52.3" y="33.05" text-anchor="end">1</text>
<path d="M62.95,296.76h4.6 M355.3,296.76h-4.6 M62.95,269.32h4.6 M355.3,269.32h-4.6 M62.95,241.88h4.6 M355.3,241.88h-4.6 M62.95,214.44h4.6 M355.3,214.44h-4.6 M121.42,324.2v-4.6 M121.42,187.0v4.6 M179.89,324.2v-4.6 M179.89,187.0v4.6 M238.36,324.2v-4.6 M238.36,187.0v4.6 M296.83,324.2v-4.6 M296.83,187.0v4.6 " stroke="#000" stroke-width="1.7" fill="none"/>
<g fill="none" stroke-width="1.7" stroke-linejoin="miter" stroke-miterlimit="10">
<path d="M62.95,187.00 L63.30,187.02 L63.53,187.05 L63.77,187.10 L64.12,187.19 L64.35,187.28 L64.59,187.38 L64.94,187.56 L65.17,187.70 L65.41,187.85 L65.64,188.02 L65.87,188.20 L66.11,188.40 L66.34,188.61 L66.69,188.96 L66.93,189.20 L67.16,189.46 L67.39,189.73 L67.63,190.02 L68.10,190.63 L68.56,191.29 L69.03,191.99 L69.50,192.74 L69.97,193.53 L70.32,194.15 L70.67,194.79 L71.02,195.45 L71.49,196.35 L71.84,197.05 L72.31,198.01 L73.12,199.73 L73.94,201.52 L74.76,203.35 L75.70,205.48 L78.39,211.64 L79.20,213.49 L80.02,215.31 L80.96,217.35 L81.78,219.09 L82.71,221.03 L83.53,222.67 L84.47,224.50 L84.93,225.39 L85.52,226.49 L85.99,227.35 L86.57,228.40 L87.62,230.25 L88.68,232.04 L89.26,233.01 L89.85,233.97 L91.02,235.83 L91.60,236.74 L92.30,237.82 L93.47,239.58 L94.76,241.46 L96.04,243.29 L97.21,244.90 L97.80,245.69 L98.38,246.46 L99.44,247.82 L100.02,248.55 L100.49,249.12 L100.96,249.67 L101.42,250.22 L101.89,250.75 L102.36,251.26 L102.83,251.76 L103.29,252.25 L103.76,252.71 L104.23,253.16 L104.70,253.59 L105.05,253.90 L105.52,254.30 L105.98,254.67 L106.45,255.03 L106.80,255.28 L107.27,255.60 L107.62,255.82 L108.09,256.10 L108.44,256.29 L108.79,256.47 L109.02,256.58 L109.49,256.78 L109.96,256.96 L110.43,257.11 L110.90,257.24 L111.36,257.34 L111.83,257.41 L112.30,257.46 L112.65,257.47 L112.88,257.48 L113.35,257.46 L113.82,257.42 L114.29,257.34 L114.75,257.24 L115.22,257.12 L115.69,256.96 L116.16,256.77 L116.63,256.56 L117.09,256.31 L117.56,256.04 L118.03,255.74 L118.50,255.40 L118.96,255.04 L119.43,254.65 L119.90,254.22 L120.37,253.77 L120.84,253.29 L121.30,252.77 L121.77,252.23 L122.24,251.65 L122.71,251.04 L123.17,250.41 L123.52,249.91 L123.88,249.39 L124.34,248.67 L124.69,248.12 L125.16,247.35 L125.51,246.75 L125.98,245.93 L126.45,245.07 L126.92,244.19 L127.27,243.50 L127.73,242.57 L128.20,241.60 L128.67,240.60 L129.02,239.84 L129.49,238.79 L129.96,237.72 L130.42,236.63 L131.13,234.93 L131.94,232.89 L132.76,230.78 L133.70,228.31 L134.52,226.09 L135.34,223.84 L138.14,215.99 L139.19,213.08 L140.25,210.24 L141.18,207.78 L141.77,206.30 L142.24,205.14 L142.70,204.02 L143.17,202.92 L143.64,201.86 L144.11,200.84 L144.57,199.86 L145.04,198.92 L145.63,197.81 L145.98,197.18 L146.21,196.78 L146.56,196.19 L146.80,195.82 L147.26,195.10 L147.61,194.60 L147.85,194.29 L148.08,193.98 L148.32,193.69 L148.67,193.28 L148.90,193.02 L149.13,192.78 L149.37,192.55 L149.60,192.34 L149.84,192.13 L150.07,191.95 L150.42,191.69 L150.66,191.53 L150.89,191.39 L151.12,191.27 L151.47,191.10 L151.71,191.01 L151.94,190.93 L152.18,190.86 L152.53,190.78 L152.76,190.75 L152.99,190.72 L153.23,190.71 L153.58,190.72 L153.93,190.75 L154.28,190.81 L154.63,190.90 L154.98,191.01 L155.33,191.14 L155.68,191.30 L156.03,191.47 L156.50,191.74 L156.85,191.97 L157.32,192.30 L157.67,192.57 L158.14,192.95 L158.49,193.25 L158.96,193.68 L159.43,194.12 L159.89,194.59 L160.48,195.20 L161.06,195.84 L161.76,196.62 L162.47,197.42 L163.52,198.66 L165.97,201.57 L167.26,203.09 L168.55,204.59 L170.89,207.29 L171.94,208.53 L173.11,209.92 L174.04,211.08 L174.98,212.27 L175.80,213.35 L176.26,213.99 L176.73,214.65 L177.55,215.84 L178.37,217.08 L179.19,218.39 L180.01,219.75 L180.83,221.18 L181.64,222.67 L182.46,224.22 L183.16,225.59 L183.98,227.24 L184.68,228.70 L185.50,230.43 L186.20,231.95 L187.02,233.74 L189.71,239.71 L190.77,242.03 L191.82,244.30 L192.40,245.54 L192.87,246.51 L193.46,247.70 L193.92,248.63 L194.51,249.76 L194.98,250.64 L195.56,251.70 L196.03,252.52 L196.50,253.31 L196.96,254.08 L197.55,254.99 L198.13,255.85 L198.72,256.66 L199.07,257.12 L199.30,257.41 L199.65,257.84 L199.89,258.11 L200.24,258.50 L200.47,258.75 L200.82,259.11 L201.06,259.33 L201.52,259.75 L201.87,260.04 L202.11,260.22 L202.46,260.48 L202.69,260.63 L203.04,260.85 L203.28,260.98 L203.51,261.10 L203.75,261.20 L204.10,261.35 L204.33,261.43 L204.68,261.54 L204.92,261.60 L205.27,261.66 L205.50,261.69 L205.73,261.71 L205.97,261.72 L206.32,261.72 L206.55,261.70 L206.79,261.68 L207.02,261.64 L207.25,261.59 L207.49,261.53 L207.72,261.46 L208.07,261.34 L208.31,261.24 L208.54,261.14 L208.77,261.02 L209.12,260.82 L209.36,260.68 L209.71,260.45 L209.94,260.28 L210.29,260.00 L210.76,259.60 L211.00,259.39 L211.35,259.05 L211.58,258.81 L211.93,258.43 L212.17,258.16 L212.52,257.74 L212.75,257.45 L213.10,257.00 L213.33,256.69 L213.69,256.20 L214.27,255.33 L214.86,254.42 L215.44,253.44 L216.02,252.41 L216.61,251.33 L217.19,250.20 L217.78,249.03 L218.48,247.56 L219.06,246.28 L219.77,244.71 L220.35,243.35 L221.05,241.69 L221.75,239.98 L222.46,238.24 L223.86,234.68 L226.43,228.04 L227.48,225.35 L228.54,222.71 L229.12,221.28 L229.59,220.15 L230.17,218.76 L230.76,217.41 L231.34,216.09 L231.93,214.82 L232.51,213.58 L232.98,212.63 L233.57,211.48 L234.03,210.59 L234.38,209.95 L234.73,209.32 L235.32,208.32 L235.90,207.37 L236.49,206.47 L237.07,205.63 L237.42,205.15 L237.78,204.69 L238.36,203.96 L238.71,203.55 L239.06,203.16 L239.30,202.90 L239.65,202.54 L240.00,202.19 L240.35,201.86 L240.70,201.55 L241.05,201.25 L241.40,200.96 L241.75,200.70 L242.10,200.44 L242.45,200.20 L242.80,199.97 L243.15,199.76 L243.51,199.55 L243.86,199.36 L244.21,199.18 L244.67,198.95 L245.38,198.63 L246.08,198.35 L246.78,198.09 L247.60,197.82 L248.53,197.54 L249.47,197.27 L250.52,197.00 L251.69,196.72 L252.63,196.50 L253.56,196.31 L254.38,196.16 L255.20,196.03 L255.90,195.95 L256.60,195.89 L256.95,195.87 L257.30,195.86 L257.89,195.86 L258.47,195.90 L258.94,195.95 L259.41,196.03 L259.88,196.13 L260.34,196.26 L260.81,196.42 L261.28,196.60 L261.75,196.82 L262.22,197.08 L262.68,197.37 L263.15,197.70 L263.50,197.97 L263.97,198.37 L264.44,198.81 L264.91,199.29 L265.26,199.68 L265.72,200.24 L266.07,200.68 L266.43,201.15 L266.78,201.65 L267.13,202.17 L267.48,202.72 L267.83,203.29 L268.30,204.08 L268.65,204.71 L269.00,205.36 L269.35,206.04 L269.82,206.97 L270.17,207.70 L270.64,208.70 L270.99,209.48 L271.45,210.55 L272.16,212.21 L272.86,213.95 L273.68,216.05 L274.49,218.22 L275.20,220.13 L276.01,222.40 L278.94,230.65 L280.11,233.91 L280.69,235.51 L281.28,237.09 L281.86,238.64 L282.45,240.15 L283.15,241.92 L283.73,243.34 L284.32,244.72 L284.90,246.06 L285.49,247.34 L286.07,248.56 L286.66,249.74 L287.24,250.85 L287.59,251.49 L287.94,252.11 L288.29,252.71 L288.64,253.28 L289.00,253.83 L289.35,254.37 L289.70,254.87 L289.93,255.20 L290.28,255.67 L290.63,256.12 L290.98,256.54 L291.22,256.81 L291.45,257.07 L291.80,257.44 L292.15,257.79 L292.50,258.11 L292.74,258.32 L293.09,258.60 L293.44,258.87 L293.79,259.11 L294.14,259.33 L294.49,259.53 L294.84,259.70 L295.19,259.85 L295.43,259.94 L295.78,260.06 L296.13,260.15 L296.48,260.22 L296.83,260.27 L297.18,260.30 L297.53,260.31 L297.88,260.30 L298.12,260.28 L298.47,260.23 L298.70,260.19 L299.05,260.11 L299.29,260.04 L299.64,259.93 L299.99,259.79 L300.34,259.64 L300.57,259.53 L300.92,259.35 L301.16,259.21 L301.51,259.00 L301.74,258.85 L302.09,258.60 L302.44,258.34 L302.79,258.06 L303.03,257.86 L303.38,257.56 L303.73,257.23 L304.08,256.89 L304.43,256.54 L304.78,256.16 L305.13,255.78 L305.48,255.38 L305.83,254.96 L306.19,254.53 L306.54,254.09 L306.89,253.63 L307.59,252.69 L308.29,251.69 L308.76,251.00 L309.23,250.29 L309.69,249.57 L310.16,248.83 L310.63,248.07 L311.21,247.10 L312.27,245.32 L313.32,243.48 L314.37,241.61 L315.42,239.71 L318.81,233.55 L319.87,231.66 L320.92,229.80 L322.09,227.76 L323.26,225.76 L324.43,223.79 L325.60,221.86 L326.65,220.15 L327.70,218.47 L333.08,209.94 L334.72,207.32 L338.23,201.66 L339.16,200.18 L339.98,198.89 L340.68,197.82 L341.27,196.94 L341.85,196.08 L342.32,195.42 L342.90,194.61 L343.37,193.99 L343.84,193.39 L344.31,192.82 L344.78,192.28 L345.13,191.89 L345.48,191.52 L345.83,191.17 L346.30,190.73 L346.65,190.43 L347.00,190.15 L347.35,189.89 L347.70,189.66 L348.05,189.45 L348.40,189.27 L348.75,189.11 L349.10,188.98 L349.45,188.88 L349.80,188.81 L350.04,188.78 L350.39,188.76 L350.74,188.77 L351.09,188.80 L351.44,188.87 L351.79,188.98 L352.14,189.11 L352.49,189.27 L352.73,189.40 L353.08,189.62 L353.31,189.79 L353.66,190.06 L354.01,190.36 L354.25,190.59 L354.60,190.95 L354.95,191.34 L355.30,191.76" stroke="#ff0000" stroke-dasharray="1.7 2.0"/>
<path d="M62.95,187.00 L63.07,187.10 L63.18,187.38 L63.30,187.86 L63.42,188.52 L63.53,189.37 L63.65,190.41 L63.77,191.62 L63.89,193.01 L64.00,194.57 L64.12,196.29 L64.24,198.18 L64.35,200.22 L64.47,202.41 L64.70,207.20 L64.82,209.79 L65.05,215.31 L65.29,221.22 L65.52,227.47 L65.87,237.28 L66.81,264.24 L67.16,273.95 L67.39,280.12 L67.74,288.79 L67.98,294.11 L68.21,299.01 L68.45,303.47 L68.68,307.47 L68.80,309.28 L68.91,310.98 L69.03,312.55 L69.15,314.00 L69.26,315.33 L69.38,316.54 L69.50,317.62 L69.62,318.58 L69.73,319.43 L69.85,320.16 L69.97,320.78 L70.08,321.29 L70.20,321.68 L70.32,321.98 L70.43,322.18 L70.55,322.27 L70.67,322.28 L70.78,322.20 L70.90,322.03 L71.02,321.79 L71.14,321.47 L71.25,321.09 L71.37,320.63 L71.49,320.12 L71.60,319.56 L71.72,318.95 L71.95,317.59 L72.07,316.86 L72.31,315.31 L73.24,308.71 L73.59,306.36 L73.83,304.90 L74.06,303.55 L74.29,302.34 L74.41,301.79 L74.53,301.28 L74.64,300.80 L74.76,300.37 L74.88,299.98 L74.99,299.64 L75.11,299.33 L75.23,299.07 L75.35,298.86 L75.46,298.68 L75.58,298.56 L75.70,298.47 L75.81,298.43 L75.93,298.43 L76.05,298.47 L76.16,298.55 L76.28,298.67 L76.40,298.83 L76.52,299.03 L76.63,299.27 L76.75,299.53 L76.87,299.83 L76.98,300.17 L77.10,300.53 L77.22,300.92 L77.45,301.78 L77.57,302.25 L77.80,303.24 L78.15,304.85 L78.50,306.57 L79.44,311.30 L79.79,313.00 L80.02,314.08 L80.26,315.11 L80.49,316.07 L80.72,316.97 L80.96,317.79 L81.19,318.54 L81.43,319.21 L81.66,319.79 L81.78,320.05 L81.89,320.29 L82.01,320.51 L82.13,320.70 L82.25,320.88 L82.36,321.04 L82.48,321.18 L82.60,321.30 L82.71,321.40 L82.83,321.48 L82.95,321.55 L83.06,321.60 L83.18,321.63 L83.30,321.65 L83.41,321.65 L83.53,321.64 L83.65,321.62 L83.77,321.58 L83.88,321.54 L84.00,321.48 L84.12,321.42 L84.23,321.35 L84.47,321.18 L84.82,320.89 L85.40,320.38 L85.75,320.08 L85.99,319.90 L86.10,319.82 L86.34,319.68 L86.57,319.56 L86.69,319.52 L86.81,319.48 L86.92,319.45 L87.04,319.42 L87.16,319.41 L87.27,319.41 L87.39,319.41 L87.51,319.43 L87.62,319.45 L87.74,319.48 L87.86,319.52 L88.09,319.63 L88.21,319.70 L88.44,319.85 L88.56,319.94 L88.79,320.14 L89.14,320.48 L89.50,320.87 L89.85,321.28 L90.66,322.26 L90.90,322.53 L91.13,322.78 L91.48,323.13 L91.72,323.33 L91.95,323.51 L92.19,323.67 L92.42,323.79 L92.54,323.85 L92.77,323.93 L93.00,323.98 L93.12,324.00 L93.35,324.00 L93.59,323.98 L93.71,323.96 L93.94,323.90 L94.17,323.82 L94.29,323.76 L94.52,323.64 L94.64,323.57 L94.87,323.42 L95.11,323.25 L95.34,323.07 L95.58,322.87 L95.81,322.67 L96.39,322.11 L98.73,319.79 L99.44,319.08 L99.79,318.71 L100.14,318.33 L100.49,317.92 L100.72,317.63 L100.96,317.34 L101.19,317.02 L101.42,316.70 L101.66,316.35 L102.01,315.81 L102.24,315.43 L102.48,315.03 L102.83,314.40 L103.29,313.52 L103.65,312.82 L104.58,310.95 L104.93,310.27 L105.17,309.84 L105.40,309.43 L105.63,309.05 L105.75,308.87 L105.98,308.55 L106.22,308.26 L106.33,308.14 L106.45,308.03 L106.57,307.94 L106.69,307.86 L106.80,307.80 L106.92,307.75 L107.04,307.72 L107.15,307.71 L107.27,307.72 L107.39,307.74 L107.50,307.79 L107.62,307.86 L107.74,307.94 L107.85,308.05 L107.97,308.18 L108.09,308.33 L108.21,308.51 L108.32,308.70 L108.44,308.92 L108.56,309.16 L108.67,309.43 L108.79,309.71 L108.91,310.02 L109.14,310.70 L109.26,311.07 L109.49,311.88 L109.73,312.75 L109.96,313.69 L110.31,315.19 L111.25,319.40 L111.60,320.88 L111.83,321.77 L111.95,322.18 L112.06,322.56 L112.18,322.91 L112.30,323.22 L112.42,323.49 L112.53,323.72 L112.65,323.91 L112.77,324.04 L112.88,324.13 L113.00,324.16 L113.12,324.12 L113.23,324.03 L113.35,323.87 L113.47,323.65 L113.59,323.35 L113.70,322.98 L113.82,322.53 L113.94,322.00 L114.05,321.40 L114.17,320.70 L114.29,319.93 L114.40,319.06 L114.52,318.11 L114.64,317.07 L114.75,315.94 L114.87,314.71 L114.99,313.40 L115.22,310.49 L115.46,307.23 L115.69,303.61 L115.92,299.65 L116.16,295.38 L116.51,288.43 L116.74,283.48 L117.09,275.68 L118.15,251.13 L118.50,243.18 L118.73,238.12 L118.96,233.31 L119.20,228.83 L119.32,226.72 L119.55,222.81 L119.78,219.35 L119.90,217.80 L120.02,216.38 L120.13,215.09 L120.25,213.94 L120.37,212.93 L120.48,212.07 L120.60,211.36 L120.72,210.79 L120.84,210.38 L120.95,210.12 L121.07,210.02 L121.19,210.07 L121.30,210.28 L121.42,210.65 L121.54,211.17 L121.65,211.84 L121.77,212.66 L121.89,213.64 L122.00,214.75 L122.12,216.01 L122.24,217.41 L122.36,218.94 L122.47,220.60 L122.59,222.39 L122.82,226.31 L122.94,228.43 L123.17,232.96 L123.41,237.83 L123.64,242.99 L123.99,251.10 L124.93,273.48 L125.28,281.54 L125.51,286.66 L125.86,293.84 L126.10,298.22 L126.33,302.25 L126.57,305.89 L126.80,309.13 L126.92,310.59 L127.03,311.94 L127.15,313.19 L127.27,314.32 L127.38,315.35 L127.50,316.28 L127.62,317.09 L127.73,317.81 L127.85,318.41 L127.97,318.92 L128.09,319.33 L128.20,319.64 L128.32,319.86 L128.44,319.98 L128.55,320.02 L128.67,319.98 L128.79,319.85 L128.90,319.65 L129.02,319.38 L129.14,319.04 L129.25,318.64 L129.37,318.18 L129.49,317.66 L129.61,317.10 L129.72,316.49 L129.84,315.85 L130.07,314.45 L130.42,312.19 L131.01,308.26 L131.24,306.73 L131.59,304.58 L131.83,303.27 L132.06,302.10 L132.18,301.56 L132.30,301.07 L132.41,300.62 L132.53,300.20 L132.65,299.84 L132.76,299.51 L132.88,299.23 L133.00,299.00 L133.11,298.81 L133.23,298.67 L133.35,298.58 L133.46,298.53 L133.58,298.53 L133.70,298.58 L133.82,298.66 L133.93,298.80 L134.05,298.97 L134.17,299.18 L134.28,299.44 L134.40,299.73 L134.52,300.05 L134.63,300.42 L134.75,300.81 L134.87,301.23 L134.99,301.68 L135.22,302.66 L135.45,303.72 L135.69,304.84 L136.51,308.93 L136.86,310.61 L137.09,311.66 L137.21,312.15 L137.44,313.07 L137.56,313.49 L137.67,313.87 L137.79,314.23 L137.91,314.56 L138.03,314.85 L138.14,315.11 L138.26,315.33 L138.38,315.52 L138.49,315.67 L138.61,315.77 L138.73,315.84 L138.84,315.87 L138.96,315.85 L139.08,315.80 L139.19,315.71 L139.31,315.57 L139.43,315.40 L139.55,315.18 L139.66,314.93 L139.78,314.64 L139.90,314.31 L140.01,313.95 L140.13,313.55 L140.36,312.66 L140.48,312.17 L140.72,311.10 L140.83,310.53 L141.07,309.33 L141.42,307.41 L142.24,302.75 L142.47,301.47 L142.70,300.26 L142.94,299.12 L143.05,298.60 L143.29,297.63 L143.40,297.19 L143.52,296.79 L143.64,296.43 L143.76,296.11 L143.87,295.82 L143.99,295.58 L144.11,295.38 L144.22,295.22 L144.34,295.11 L144.46,295.05 L144.57,295.03 L144.69,295.06 L144.81,295.14 L144.92,295.26 L145.04,295.43 L145.16,295.64 L145.28,295.91 L145.39,296.21 L145.51,296.57 L145.63,296.96 L145.74,297.40 L145.86,297.88 L146.09,298.95 L146.21,299.53 L146.45,300.81 L146.56,301.49 L146.80,302.92 L147.15,305.22 L148.08,311.64 L148.32,313.18 L148.55,314.65 L148.78,316.01 L149.02,317.26 L149.25,318.38 L149.37,318.88 L149.49,319.33 L149.60,319.75 L149.72,320.12 L149.84,320.45 L149.95,320.73 L150.07,320.96 L150.19,321.14 L150.30,321.28 L150.42,321.36 L150.54,321.39 L150.66,321.37 L150.77,321.30 L150.89,321.18 L151.01,321.01 L151.12,320.79 L151.24,320.52 L151.36,320.21 L151.47,319.84 L151.59,319.43 L151.71,318.98 L151.82,318.48 L151.94,317.94 L152.06,317.36 L152.29,316.10 L152.41,315.42 L152.64,313.96 L152.99,311.59 L153.34,309.05 L154.28,302.09 L154.51,300.42 L154.75,298.82 L154.98,297.31 L155.22,295.91 L155.45,294.63 L155.57,294.04 L155.80,292.97 L155.92,292.50 L156.03,292.06 L156.15,291.66 L156.27,291.31 L156.39,290.99 L156.50,290.72 L156.62,290.50 L156.74,290.31 L156.85,290.17 L156.97,290.08 L157.09,290.02 L157.20,290.01 L157.32,290.04 L157.44,290.12 L157.55,290.23 L157.67,290.39 L157.79,290.58 L157.91,290.81 L158.02,291.08 L158.14,291.39 L158.26,291.73 L158.37,292.10 L158.49,292.50 L158.72,293.40 L158.84,293.88 L159.07,294.93 L159.43,296.65 L159.66,297.88 L159.89,299.15 L160.71,303.71 L161.06,305.62 L161.41,307.45 L161.76,309.14 L162.00,310.19 L162.23,311.17 L162.47,312.07 L162.58,312.49 L162.82,313.27 L162.93,313.62 L163.17,314.28 L163.40,314.85 L163.52,315.11 L163.64,315.35 L163.75,315.57 L163.87,315.77 L163.99,315.96 L164.10,316.13 L164.22,316.29 L164.34,316.43 L164.45,316.55 L164.57,316.67 L164.69,316.77 L164.80,316.86 L164.92,316.94 L165.16,317.08 L165.27,317.14 L165.51,317.25 L166.21,317.51 L166.56,317.66 L166.79,317.79 L167.03,317.93 L167.26,318.10 L167.38,318.20 L167.49,318.30 L167.73,318.53 L167.85,318.66 L168.08,318.93 L168.31,319.22 L168.55,319.53 L169.25,320.51 L169.48,320.83 L169.72,321.11 L169.83,321.25 L169.95,321.37 L170.07,321.48 L170.18,321.57 L170.30,321.65 L170.42,321.71 L170.53,321.76 L170.65,321.78 L170.77,321.78 L170.89,321.76 L171.00,321.71 L171.12,321.63 L171.24,321.52 L171.35,321.39 L171.47,321.22 L171.59,321.02 L171.70,320.78 L171.82,320.50 L171.94,320.19 L172.06,319.84 L172.17,319.45 L172.29,319.02 L172.41,318.54 L172.52,318.03 L172.64,317.47 L172.76,316.87 L172.87,316.22 L173.11,314.79 L173.34,313.19 L173.58,311.42 L173.69,310.47 L173.93,308.44 L174.16,306.27 L174.51,302.74 L174.74,300.24 L175.10,296.31 L176.15,283.93 L176.62,278.62 L176.85,276.12 L177.08,273.75 L177.32,271.55 L177.43,270.52 L177.67,268.62 L177.79,267.76 L177.90,266.95 L178.02,266.21 L178.14,265.53 L178.25,264.92 L178.37,264.38 L178.49,263.92 L178.60,263.52 L178.72,263.20 L178.84,262.95 L178.95,262.78 L179.07,262.69 L179.19,262.67 L179.31,262.74 L179.42,262.88 L179.54,263.10 L179.66,263.39 L179.77,263.76 L179.89,264.21 L180.01,264.73 L180.12,265.32 L180.24,265.99 L180.36,266.72 L180.47,267.52 L180.71,269.31 L180.83,270.29 L181.06,272.42 L181.29,274.74 L181.53,277.24 L181.76,279.87 L181.99,282.61 L182.93,293.98 L183.40,299.47 L183.63,302.07 L183.87,304.53 L184.10,306.84 L184.22,307.93 L184.45,309.97 L184.68,311.81 L184.92,313.45 L185.04,314.19 L185.15,314.88 L185.27,315.51 L185.39,316.09 L185.50,316.62 L185.62,317.09 L185.74,317.51 L185.85,317.87 L185.97,318.19 L186.09,318.45 L186.20,318.67 L186.32,318.83 L186.44,318.95 L186.56,319.03 L186.67,319.06 L186.79,319.06 L186.91,319.01 L187.02,318.93 L187.14,318.81 L187.26,318.67 L187.37,318.49 L187.49,318.28 L187.61,318.05 L187.72,317.80 L187.96,317.24 L188.31,316.30 L189.01,314.28 L189.25,313.63 L189.48,313.02 L189.71,312.46 L189.95,311.97 L190.06,311.75 L190.18,311.55 L190.30,311.37 L190.41,311.21 L190.53,311.08 L190.65,310.96 L190.77,310.87 L190.88,310.80 L191.00,310.75 L191.12,310.73 L191.23,310.73 L191.35,310.74 L191.47,310.79 L191.58,310.85 L191.70,310.93 L191.82,311.03 L191.93,311.15 L192.05,311.29 L192.17,311.44 L192.29,311.61 L192.40,311.80 L192.64,312.20 L192.87,312.63 L193.46,313.80 L193.69,314.25 L193.92,314.67 L194.04,314.86 L194.16,315.04 L194.27,315.20 L194.39,315.34 L194.51,315.47 L194.62,315.57 L194.74,315.64 L194.86,315.69 L194.98,315.72 L195.09,315.71 L195.21,315.67 L195.33,315.60 L195.44,315.49 L195.56,315.35 L195.68,315.17 L195.79,314.96 L195.91,314.70 L196.03,314.40 L196.14,314.06 L196.26,313.68 L196.38,313.25 L196.50,312.78 L196.61,312.27 L196.73,311.72 L196.85,311.12 L196.96,310.48 L197.08,309.79 L197.31,308.30 L197.55,306.64 L197.78,304.83 L198.13,301.86 L198.48,298.63 L198.83,295.20 L199.77,285.77 L200.12,282.39 L200.35,280.26 L200.59,278.27 L200.82,276.44 L200.94,275.60 L201.06,274.81 L201.17,274.08 L201.29,273.40 L201.41,272.79 L201.52,272.24 L201.64,271.75 L201.76,271.34 L201.87,270.99 L201.99,270.72 L202.11,270.52 L202.23,270.39 L202.34,270.34 L202.46,270.37 L202.58,270.48 L202.69,270.67 L202.81,270.93 L202.93,271.28 L203.04,271.70 L203.16,272.20 L203.28,272.77 L203.39,273.42 L203.51,274.14 L203.63,274.93 L203.75,275.78 L203.98,277.69 L204.10,278.74 L204.33,280.99 L204.56,283.44 L204.80,286.05 L205.15,290.19 L205.97,300.14 L206.20,302.87 L206.44,305.48 L206.67,307.91 L206.90,310.13 L207.14,312.10 L207.25,312.98 L207.37,313.79 L207.49,314.52 L207.60,315.17 L207.72,315.74 L207.84,316.21 L207.96,316.60 L208.07,316.90 L208.19,317.10 L208.31,317.20 L208.42,317.21 L208.54,317.13 L208.66,316.94 L208.77,316.65 L208.89,316.27 L209.01,315.79 L209.12,315.22 L209.24,314.54 L209.36,313.78 L209.48,312.92 L209.59,311.97 L209.71,310.94 L209.83,309.82 L209.94,308.62 L210.18,305.99 L210.29,304.58 L210.53,301.55 L210.88,296.60 L211.23,291.29 L212.17,276.54 L212.40,272.97 L212.63,269.55 L212.87,266.31 L213.10,263.30 L213.33,260.56 L213.45,259.30 L213.57,258.12 L213.69,257.02 L213.80,256.01 L213.92,255.08 L214.04,254.25 L214.15,253.52 L214.27,252.88 L214.39,252.33 L214.50,251.89 L214.62,251.55 L214.74,251.32 L214.86,251.18 L214.97,251.15 L215.09,251.22 L215.21,251.39 L215.32,251.67 L215.44,252.04 L215.56,252.52 L215.67,253.09 L215.79,253.76 L215.91,254.51 L216.02,255.36 L216.14,256.30 L216.26,257.32 L216.49,259.60 L216.73,262.17 L216.84,263.56 L217.08,266.51 L217.31,269.66 L217.54,272.98 L217.90,278.19 L218.83,292.46 L219.18,297.58 L219.42,300.83 L219.65,303.92 L219.88,306.81 L220.12,309.49 L220.35,311.94 L220.59,314.14 L220.82,316.08 L220.94,316.95 L221.05,317.76 L221.17,318.50 L221.29,319.17 L221.40,319.78 L221.52,320.31 L221.64,320.79 L221.75,321.20 L221.87,321.54 L221.99,321.83 L222.11,322.05 L222.22,322.22 L222.34,322.33 L222.46,322.38 L222.57,322.39 L222.69,322.34 L222.81,322.25 L222.92,322.11 L223.04,321.93 L223.16,321.71 L223.27,321.45 L223.39,321.16 L223.51,320.84 L223.63,320.49 L223.74,320.12 L223.98,319.32 L224.21,318.46 L224.91,315.73 L225.15,314.85 L225.50,313.62 L225.73,312.88 L225.96,312.22 L226.08,311.93 L226.20,311.65 L226.32,311.41 L226.43,311.18 L226.55,310.98 L226.67,310.81 L226.78,310.66 L226.90,310.54 L227.02,310.45 L227.13,310.38 L227.25,310.33 L227.37,310.31 L227.48,310.32 L227.60,310.34 L227.72,310.39 L227.84,310.46 L227.95,310.55 L228.07,310.66 L228.19,310.79 L228.30,310.93 L228.42,311.08 L228.65,311.43 L229.00,312.03 L229.71,313.32 L229.94,313.73 L230.17,314.11 L230.29,314.29 L230.53,314.61 L230.64,314.76 L230.76,314.89 L230.88,315.00 L230.99,315.10 L231.11,315.19 L231.23,315.26 L231.34,315.31 L231.46,315.35 L231.58,315.37 L231.69,315.37 L231.81,315.36 L231.93,315.33 L232.05,315.28 L232.16,315.22 L232.28,315.14 L232.40,315.05 L232.51,314.94 L232.63,314.82 L232.75,314.68 L232.98,314.38 L233.21,314.03 L233.57,313.45 L233.80,313.03 L234.50,311.74 L234.85,311.13 L235.09,310.75 L235.20,310.57 L235.44,310.25 L235.55,310.10 L235.79,309.84 L235.90,309.73 L236.02,309.63 L236.14,309.54 L236.26,309.47 L236.37,309.41 L236.49,309.36 L236.61,309.33 L236.72,309.32 L236.84,309.31 L236.96,309.33 L237.07,309.35 L237.19,309.39 L237.31,309.45 L237.42,309.51 L237.54,309.59 L237.66,309.69 L237.78,309.79 L237.89,309.91 L238.13,310.18 L238.36,310.49 L238.48,310.66 L238.71,311.03 L238.94,311.42 L239.18,311.84 L239.53,312.51 L240.46,314.36 L240.93,315.26 L241.40,316.11 L241.75,316.70 L241.99,317.07 L242.22,317.42 L242.45,317.74 L242.80,318.19 L243.04,318.46 L243.27,318.71 L243.51,318.95 L243.86,319.27 L244.21,319.56 L244.67,319.91 L245.03,320.16 L246.43,321.12 L246.90,321.46 L247.83,322.15 L248.18,322.40 L248.53,322.63 L248.77,322.77 L249.00,322.89 L249.24,322.99 L249.47,323.07 L249.59,323.10 L249.70,323.12 L249.82,323.13 L249.94,323.13 L250.05,323.12 L250.17,323.10 L250.29,323.07 L250.40,323.02 L250.52,322.97 L250.64,322.90 L250.76,322.81 L250.87,322.71 L250.99,322.59 L251.11,322.46 L251.22,322.31 L251.34,322.14 L251.46,321.95 L251.57,321.74 L251.69,321.51 L251.81,321.25 L251.93,320.98 L252.04,320.68 L252.16,320.35 L252.28,320.01 L252.39,319.63 L252.63,318.81 L252.86,317.87 L252.98,317.36 L253.21,316.25 L253.33,315.65 L253.56,314.36 L253.68,313.67 L253.91,312.20 L254.15,310.61 L254.50,307.99 L254.85,305.12 L255.20,302.02 L255.55,298.70 L255.90,295.22 L257.07,283.10 L257.42,279.57 L257.66,277.31 L257.89,275.17 L258.12,273.15 L258.24,272.20 L258.47,270.44 L258.71,268.86 L258.82,268.15 L258.94,267.50 L259.06,266.91 L259.18,266.37 L259.29,265.91 L259.41,265.50 L259.53,265.17 L259.64,264.90 L259.76,264.71 L259.88,264.59 L259.99,264.54 L260.11,264.57 L260.23,264.67 L260.34,264.85 L260.46,265.11 L260.58,265.44 L260.70,265.84 L260.81,266.33 L260.93,266.88 L261.05,267.51 L261.16,268.22 L261.28,268.99 L261.40,269.83 L261.51,270.74 L261.63,271.72 L261.86,273.85 L262.10,276.20 L262.33,278.74 L262.57,281.45 L262.80,284.28 L263.62,294.62 L263.97,298.93 L264.32,302.97 L264.55,305.42 L264.67,306.57 L264.91,308.66 L265.02,309.60 L265.14,310.46 L265.26,311.25 L265.37,311.94 L265.49,312.55 L265.61,313.07 L265.72,313.49 L265.84,313.81 L265.96,314.03 L266.07,314.14 L266.19,314.15 L266.31,314.06 L266.43,313.86 L266.54,313.54 L266.66,313.12 L266.78,312.59 L266.89,311.95 L267.01,311.20 L267.13,310.35 L267.24,309.39 L267.36,308.32 L267.48,307.16 L267.60,305.89 L267.71,304.53 L267.95,301.52 L268.18,298.18 L268.41,294.52 L268.65,290.60 L268.88,286.46 L269.12,282.14 L270.05,264.16 L270.40,257.61 L270.64,253.46 L270.87,249.54 L271.10,245.89 L271.22,244.19 L271.45,241.06 L271.57,239.63 L271.69,238.31 L271.80,237.09 L271.92,235.99 L272.04,235.00 L272.16,234.13 L272.27,233.37 L272.39,232.74 L272.51,232.24 L272.62,231.86 L272.74,231.61 L272.86,231.49 L272.97,231.50 L273.09,231.64 L273.21,231.91 L273.33,232.31 L273.44,232.84 L273.56,233.49 L273.68,234.27 L273.79,235.17 L273.91,236.19 L274.03,237.32 L274.14,238.57 L274.26,239.93 L274.38,241.39 L274.61,244.62 L274.85,248.21 L275.08,252.12 L275.31,256.31 L275.55,260.72 L275.78,265.31 L276.72,284.32 L277.18,293.48 L277.42,297.81 L277.65,301.90 L277.89,305.73 L278.00,307.53 L278.24,310.88 L278.35,312.43 L278.59,315.26 L278.70,316.54 L278.82,317.71 L278.94,318.80 L279.06,319.78 L279.17,320.66 L279.29,321.44 L279.41,322.13 L279.52,322.71 L279.64,323.20 L279.76,323.59 L279.87,323.88 L279.99,324.08 L280.11,324.18 L280.22,324.19 L280.34,324.12 L280.46,323.96 L280.58,323.72 L280.69,323.40 L280.81,323.01 L280.93,322.54 L281.04,322.01 L281.16,321.41 L281.28,320.76 L281.51,319.29 L281.63,318.49 L281.86,316.77 L282.21,313.96 L282.91,308.06 L283.26,305.21 L283.50,303.42 L283.62,302.57 L283.85,300.98 L283.97,300.25 L284.20,298.91 L284.32,298.32 L284.43,297.77 L284.55,297.28 L284.67,296.83 L284.79,296.45 L284.90,296.11 L285.02,295.84 L285.14,295.62 L285.25,295.45 L285.37,295.34 L285.49,295.29 L285.60,295.29 L285.72,295.35 L285.84,295.46 L285.95,295.62 L286.07,295.84 L286.19,296.10 L286.31,296.41 L286.42,296.77 L286.54,297.16 L286.66,297.60 L286.77,298.08 L286.89,298.60 L287.01,299.15 L287.24,300.34 L287.59,302.30 L287.94,304.43 L288.88,310.32 L289.23,312.43 L289.46,313.77 L289.70,315.03 L289.93,316.21 L290.16,317.31 L290.40,318.31 L290.63,319.22 L290.87,320.03 L291.10,320.75 L291.33,321.38 L291.45,321.66 L291.57,321.92 L291.68,322.16 L291.80,322.38 L291.92,322.58 L292.04,322.77 L292.15,322.93 L292.27,323.08 L292.39,323.22 L292.50,323.34 L292.62,323.44 L292.74,323.54 L292.85,323.62 L292.97,323.69 L293.09,323.75 L293.32,323.85 L293.56,323.91 L293.67,323.93 L293.91,323.96 L294.02,323.96 L294.26,323.96 L294.49,323.95 L294.73,323.92 L294.96,323.89 L295.19,323.85 L295.66,323.74 L296.13,323.60 L296.60,323.43 L296.95,323.28 L297.41,323.05 L297.88,322.79 L298.82,322.26 L299.29,322.01 L299.52,321.91 L299.75,321.81 L299.99,321.73 L300.22,321.67 L300.46,321.63 L300.57,321.61 L300.81,321.60 L300.92,321.60 L301.16,321.61 L301.27,321.62 L301.51,321.66 L301.74,321.72 L302.09,321.83 L302.33,321.92 L303.14,322.24 L303.38,322.32 L303.61,322.39 L303.85,322.44 L304.08,322.47 L304.31,322.49 L304.43,322.48 L304.66,322.45 L304.78,322.43 L305.02,322.35 L305.25,322.25 L305.48,322.11 L305.72,321.94 L305.95,321.73 L306.19,321.49 L306.42,321.21 L306.65,320.90 L306.77,320.74 L307.00,320.38 L307.24,319.99 L307.59,319.36 L307.82,318.89 L308.17,318.15 L308.52,317.33 L308.76,316.75 L309.11,315.82 L309.34,315.16 L309.58,314.46 L309.81,313.72 L310.04,312.94 L310.28,312.11 L310.51,311.23 L310.75,310.30 L310.98,309.32 L311.21,308.28 L311.56,306.61 L311.92,304.80 L312.15,303.52 L312.38,302.18 L312.73,300.08 L313.20,297.10 L314.37,289.29 L314.72,287.00 L314.96,285.54 L315.19,284.14 L315.42,282.83 L315.54,282.21 L315.77,281.06 L316.01,280.03 L316.13,279.57 L316.24,279.15 L316.36,278.76 L316.48,278.42 L316.59,278.12 L316.71,277.87 L316.83,277.66 L316.94,277.49 L317.06,277.38 L317.18,277.32 L317.29,277.30 L317.41,277.34 L317.53,277.43 L317.65,277.57 L317.76,277.77 L317.88,278.01 L318.00,278.32 L318.11,278.67 L318.23,279.08 L318.35,279.54 L318.46,280.05 L318.58,280.61 L318.70,281.22 L318.81,281.88 L319.05,283.34 L319.17,284.13 L319.40,285.84 L319.63,287.69 L319.87,289.67 L320.10,291.76 L320.33,293.91 L321.27,302.75 L321.50,304.85 L321.74,306.85 L321.97,308.72 L322.21,310.43 L322.44,311.94 L322.56,312.62 L322.67,313.23 L322.79,313.79 L322.91,314.28 L323.02,314.71 L323.14,315.07 L323.26,315.35 L323.38,315.57 L323.49,315.70 L323.61,315.76 L323.73,315.74 L323.84,315.65 L323.96,315.47 L324.08,315.21 L324.19,314.87 L324.31,314.44 L324.43,313.94 L324.54,313.35 L324.66,312.68 L324.78,311.93 L324.90,311.10 L325.01,310.19 L325.13,309.21 L325.25,308.15 L325.48,305.81 L325.71,303.21 L325.83,301.81 L326.06,298.84 L326.30,295.67 L326.53,292.32 L327.00,285.24 L327.94,270.61 L328.17,267.09 L328.40,263.71 L328.64,260.51 L328.87,257.52 L329.11,254.78 L329.22,253.52 L329.46,251.22 L329.57,250.19 L329.69,249.25 L329.81,248.39 L329.92,247.63 L330.04,246.96 L330.16,246.38 L330.27,245.90 L330.39,245.53 L330.51,245.25 L330.63,245.08 L330.74,245.00 L330.86,245.03 L330.98,245.17 L331.09,245.41 L331.21,245.75 L331.33,246.19 L331.44,246.74 L331.56,247.38 L331.68,248.12 L331.80,248.96 L331.91,249.89 L332.03,250.92 L332.15,252.03 L332.38,254.51 L332.50,255.87 L332.73,258.82 L332.96,262.03 L333.20,265.47 L333.43,269.11 L333.67,272.90 L334.72,290.71 L335.07,296.46 L335.30,300.13 L335.54,303.61 L335.77,306.87 L335.89,308.41 L336.12,311.28 L336.36,313.87 L336.47,315.04 L336.59,316.14 L336.71,317.15 L336.82,318.08 L336.94,318.92 L337.06,319.68 L337.17,320.34 L337.29,320.92 L337.41,321.41 L337.53,321.81 L337.64,322.12 L337.76,322.35 L337.88,322.48 L337.99,322.53 L338.11,322.50 L338.23,322.38 L338.34,322.19 L338.46,321.91 L338.58,321.56 L338.69,321.13 L338.81,320.64 L338.93,320.08 L339.05,319.45 L339.16,318.77 L339.40,317.23 L339.51,316.39 L339.75,314.58 L339.98,312.63 L340.21,310.57 L341.03,303.07 L341.38,299.98 L341.73,297.13 L341.97,295.41 L342.09,294.62 L342.32,293.16 L342.44,292.51 L342.55,291.91 L342.67,291.37 L342.79,290.88 L342.90,290.45 L343.02,290.08 L343.14,289.77 L343.26,289.51 L343.37,289.32 L343.49,289.19 L343.61,289.11 L343.72,289.10 L343.84,289.14 L343.96,289.24 L344.07,289.40 L344.19,289.62 L344.31,289.88 L344.42,290.20 L344.54,290.56 L344.66,290.98 L344.78,291.44 L344.89,291.93 L345.13,293.05 L345.24,293.66 L345.48,294.96 L345.71,296.36 L345.94,297.83 L346.65,302.40 L347.00,304.62 L347.35,306.68 L347.58,307.95 L347.70,308.54 L347.93,309.63 L348.05,310.12 L348.17,310.59 L348.28,311.02 L348.40,311.41 L348.52,311.76 L348.63,312.08 L348.75,312.36 L348.87,312.61 L348.99,312.82 L349.10,312.99 L349.22,313.12 L349.34,313.22 L349.45,313.28 L349.57,313.31 L349.69,313.30 L349.80,313.26 L349.92,313.20 L350.04,313.10 L350.15,312.97 L350.27,312.82 L350.39,312.64 L350.51,312.44 L350.62,312.22 L350.74,311.98 L350.86,311.72 L351.09,311.16 L351.44,310.24 L352.03,308.63 L352.26,308.00 L352.49,307.41 L352.73,306.86 L352.96,306.37 L353.08,306.15 L353.20,305.94 L353.31,305.76 L353.43,305.60 L353.55,305.46 L353.66,305.34 L353.78,305.24 L353.90,305.17 L354.01,305.12 L354.13,305.10 L354.25,305.10 L354.36,305.13 L354.48,305.19 L354.60,305.26 L354.72,305.37 L354.83,305.50 L354.95,305.66 L355.07,305.84 L355.18,306.05 L355.30,306.28" stroke="#109610" stroke-dasharray="3.2 1.1"/>
<path d="M62.95,187.00 L63.07,187.78 L63.18,190.09 L63.30,193.88 L63.42,199.06 L63.53,205.48 L63.65,212.98 L63.77,221.39 L63.89,230.49 L64.35,269.42 L64.59,287.40 L64.70,295.37 L64.82,302.48 L64.94,308.63 L65.05,313.75 L65.17,317.81 L65.29,320.81 L65.41,322.78 L65.52,323.78 L65.64,323.89 L65.76,323.22 L65.87,321.90 L65.99,320.05 L66.11,317.82 L66.46,310.23 L66.58,307.83 L66.69,305.68 L66.81,303.86 L66.93,302.44 L67.04,301.47 L67.16,300.97 L67.28,300.95 L67.39,301.38 L67.51,302.24 L67.63,303.49 L67.74,305.06 L67.86,306.89 L67.98,308.90 L68.33,315.26 L68.45,317.24 L68.56,319.05 L68.68,320.64 L68.80,321.96 L68.91,322.99 L69.03,323.71 L69.15,324.10 L69.26,324.19 L69.38,323.98 L69.50,323.50 L69.62,322.78 L69.73,321.86 L69.85,320.79 L69.97,319.61 L70.32,315.89 L70.43,314.74 L70.55,313.70 L70.67,312.80 L70.78,312.06 L70.90,311.51 L71.02,311.16 L71.14,311.00 L71.25,311.05 L71.37,311.29 L71.49,311.71 L71.60,312.29 L71.72,313.01 L71.84,313.85 L71.95,314.77 L72.54,319.82 L72.66,320.74 L72.77,321.57 L72.89,322.30 L73.01,322.93 L73.12,323.43 L73.24,323.81 L73.36,324.06 L73.47,324.18 L73.59,324.18 L73.71,324.06 L73.83,323.83 L73.94,323.49 L74.06,323.07 L74.18,322.56 L74.29,322.00 L74.41,321.38 L74.99,318.01 L75.23,316.77 L75.35,316.22 L75.46,315.73 L75.58,315.31 L75.70,314.96 L75.81,314.68 L75.93,314.49 L76.05,314.39 L76.16,314.37 L76.28,314.44 L76.40,314.60 L76.52,314.83 L76.63,315.15 L76.75,315.54 L76.87,316.00 L76.98,316.51 L77.10,317.08 L77.33,318.32 L77.80,320.90 L77.92,321.50 L78.04,322.05 L78.15,322.54 L78.27,322.97 L78.39,323.33 L78.50,323.61 L78.62,323.80 L78.74,323.90 L78.85,323.92 L78.97,323.85 L79.09,323.70 L79.20,323.47 L79.32,323.17 L79.44,322.82 L79.56,322.42 L79.67,321.98 L80.02,320.60 L80.14,320.16 L80.26,319.75 L80.37,319.38 L80.49,319.07 L80.61,318.81 L80.72,318.61 L80.84,318.48 L80.96,318.41 L81.08,318.40 L81.19,318.45 L81.31,318.54 L81.43,318.66 L81.78,319.12 L81.89,319.26 L82.01,319.37 L82.13,319.43 L82.25,319.43 L82.36,319.38 L82.48,319.25 L82.60,319.04 L82.71,318.76 L82.83,318.40 L82.95,317.97 L83.06,317.47 L83.18,316.91 L83.30,316.31 L83.65,314.38 L83.88,313.15 L84.00,312.60 L84.12,312.11 L84.23,311.69 L84.35,311.36 L84.47,311.12 L84.58,310.98 L84.70,310.94 L84.82,310.99 L84.93,311.13 L85.05,311.36 L85.17,311.67 L85.29,312.04 L85.40,312.47 L85.52,312.93 L85.87,314.39 L85.99,314.86 L86.10,315.30 L86.22,315.69 L86.34,316.02 L86.45,316.30 L86.57,316.52 L86.69,316.67 L86.81,316.76 L86.92,316.78 L87.04,316.75 L87.16,316.66 L87.27,316.53 L87.39,316.37 L87.51,316.19 L87.86,315.59 L87.98,315.41 L88.09,315.26 L88.21,315.14 L88.33,315.06 L88.44,315.02 L88.56,315.03 L88.68,315.08 L88.79,315.18 L88.91,315.32 L89.03,315.51 L89.14,315.73 L89.26,315.98 L89.38,316.26 L89.96,317.77 L90.08,318.05 L90.20,318.30 L90.31,318.53 L90.43,318.72 L90.55,318.88 L90.66,319.00 L90.78,319.09 L90.90,319.13 L91.02,319.13 L91.13,319.10 L91.25,319.03 L91.37,318.93 L91.48,318.80 L91.60,318.65 L91.72,318.47 L91.83,318.27 L92.07,317.84 L92.65,316.70 L92.89,316.28 L93.00,316.10 L93.12,315.92 L93.24,315.77 L93.35,315.63 L93.47,315.50 L93.59,315.40 L93.71,315.31 L93.82,315.24 L93.94,315.19 L94.06,315.15 L94.17,315.13 L94.29,315.12 L94.41,315.13 L94.52,315.15 L94.64,315.18 L94.87,315.27 L95.11,315.38 L95.58,315.62 L95.81,315.72 L95.93,315.76 L96.04,315.78 L96.16,315.80 L96.28,315.81 L96.39,315.80 L96.51,315.78 L96.63,315.74 L96.75,315.70 L96.86,315.63 L96.98,315.56 L97.10,315.47 L97.21,315.37 L97.45,315.15 L97.92,314.66 L98.15,314.43 L98.27,314.33 L98.38,314.23 L98.50,314.16 L98.62,314.09 L98.73,314.04 L98.85,314.01 L98.97,314.00 L99.08,314.00 L99.20,314.02 L99.32,314.07 L99.44,314.12 L99.55,314.20 L99.67,314.29 L99.79,314.40 L100.02,314.64 L100.25,314.93 L100.49,315.23 L100.96,315.88 L101.42,316.56 L101.77,317.12 L102.01,317.53 L102.24,317.99 L102.36,318.23 L102.48,318.49 L102.71,319.05 L102.83,319.35 L103.06,319.99 L103.65,321.68 L103.88,322.34 L104.11,322.94 L104.23,323.21 L104.35,323.45 L104.46,323.66 L104.58,323.84 L104.70,323.99 L104.81,324.10 L104.93,324.16 L105.05,324.19 L105.17,324.17 L105.28,324.11 L105.40,324.00 L105.52,323.85 L105.63,323.65 L105.75,323.41 L105.87,323.13 L105.98,322.81 L106.10,322.45 L106.22,322.05 L106.33,321.63 L106.45,321.18 L106.69,320.22 L107.27,317.70 L107.50,316.79 L107.62,316.38 L107.74,316.02 L107.85,315.70 L107.97,315.43 L108.09,315.23 L108.21,315.09 L108.32,315.02 L108.44,315.03 L108.56,315.11 L108.67,315.27 L108.79,315.51 L108.91,315.82 L109.02,316.21 L109.14,316.67 L109.26,317.18 L109.38,317.75 L109.61,319.01 L109.96,320.99 L110.08,321.62 L110.19,322.21 L110.31,322.74 L110.43,323.19 L110.54,323.56 L110.66,323.82 L110.78,323.97 L110.90,323.99 L111.01,323.89 L111.13,323.64 L111.25,323.26 L111.36,322.75 L111.48,322.11 L111.60,321.35 L111.71,320.48 L111.83,319.53 L112.42,314.27 L112.53,313.31 L112.65,312.45 L112.77,311.72 L112.88,311.14 L113.00,310.73 L113.12,310.51 L113.23,310.49 L113.35,310.69 L113.47,311.09 L113.59,311.70 L113.70,312.50 L113.82,313.46 L113.94,314.57 L114.05,315.78 L114.40,319.65 L114.52,320.85 L114.64,321.94 L114.75,322.85 L114.87,323.55 L114.99,323.99 L115.11,324.13 L115.22,323.97 L115.34,323.47 L115.46,322.64 L115.57,321.47 L115.69,320.01 L115.81,318.26 L115.92,316.28 L116.04,314.13 L116.39,307.27 L116.51,305.11 L116.63,303.15 L116.74,301.47 L116.86,300.12 L116.98,299.19 L117.09,298.71 L117.21,298.71 L117.33,299.23 L117.44,300.24 L117.56,301.73 L117.68,303.65 L117.79,305.93 L117.91,308.50 L118.26,316.74 L118.38,319.23 L118.50,321.36 L118.61,322.98 L118.73,323.96 L118.85,324.17 L118.96,323.51 L119.08,321.88 L119.20,319.22 L119.32,315.49 L119.43,310.71 L119.55,304.88 L119.67,298.08 L119.78,290.41 L119.90,281.98 L120.13,263.52 L120.48,234.75 L120.60,225.74 L120.72,217.39 L120.84,209.89 L120.95,203.44 L121.07,198.20 L121.19,194.29 L121.30,191.82 L121.42,190.84 L121.54,191.39 L121.65,193.43 L121.77,196.93 L121.89,201.78 L122.00,207.86 L122.12,215.01 L122.24,223.05 L122.36,231.79 L122.82,269.39 L123.06,286.88 L123.17,294.66 L123.29,301.63 L123.41,307.68 L123.52,312.75 L123.64,316.80 L123.76,319.84 L123.88,321.90 L123.99,323.02 L124.11,323.30 L124.23,322.83 L124.34,321.72 L124.46,320.11 L124.58,318.13 L124.93,311.29 L125.05,309.12 L125.16,307.17 L125.28,305.54 L125.40,304.27 L125.51,303.42 L125.63,303.01 L125.75,303.03 L125.86,303.48 L125.98,304.32 L126.10,305.51 L126.21,306.99 L126.33,308.71 L126.80,316.43 L126.92,318.24 L127.03,319.87 L127.15,321.28 L127.27,322.44 L127.38,323.31 L127.50,323.89 L127.62,324.17 L127.73,324.16 L127.85,323.87 L127.97,323.33 L128.09,322.58 L128.20,321.64 L128.32,320.57 L128.79,315.79 L128.90,314.68 L129.02,313.69 L129.14,312.83 L129.25,312.13 L129.37,311.61 L129.49,311.27 L129.61,311.12 L129.72,311.16 L129.84,311.39 L129.96,311.78 L130.07,312.32 L130.19,312.99 L130.31,313.77 L130.54,315.57 L131.01,319.43 L131.13,320.31 L131.24,321.13 L131.36,321.86 L131.48,322.50 L131.59,323.04 L131.71,323.47 L131.83,323.78 L131.94,323.99 L132.06,324.08 L132.18,324.07 L132.30,323.96 L132.41,323.74 L132.53,323.45 L132.65,323.07 L132.76,322.62 L132.88,322.12 L133.00,321.56 L133.23,320.35 L133.70,317.85 L133.82,317.27 L133.93,316.72 L134.05,316.23 L134.17,315.80 L134.28,315.43 L134.40,315.14 L134.52,314.93 L134.63,314.81 L134.75,314.77 L134.87,314.83 L134.99,314.98 L135.10,315.22 L135.22,315.54 L135.34,315.95 L135.45,316.43 L135.57,316.97 L135.69,317.57 L136.15,320.15 L136.27,320.76 L136.39,321.32 L136.51,321.82 L136.62,322.23 L136.74,322.55 L136.86,322.76 L136.97,322.85 L137.09,322.82 L137.21,322.66 L137.32,322.38 L137.44,321.98 L137.56,321.46 L137.67,320.85 L137.79,320.16 L137.91,319.41 L138.38,316.23 L138.49,315.51 L138.61,314.88 L138.73,314.35 L138.84,313.93 L138.96,313.65 L139.08,313.52 L139.19,313.53 L139.31,313.68 L139.43,313.98 L139.55,314.41 L139.66,314.95 L139.78,315.58 L139.90,316.28 L140.25,318.54 L140.36,319.23 L140.48,319.85 L140.60,320.37 L140.72,320.75 L140.83,320.99 L140.95,321.07 L141.07,320.97 L141.18,320.70 L141.30,320.25 L141.42,319.63 L141.53,318.87 L141.65,317.97 L141.77,316.96 L142.35,311.34 L142.47,310.33 L142.59,309.43 L142.70,308.67 L142.82,308.06 L142.94,307.63 L143.05,307.37 L143.17,307.31 L143.29,307.43 L143.40,307.73 L143.52,308.19 L143.64,308.79 L143.76,309.53 L143.87,310.36 L144.46,315.04 L144.57,315.89 L144.69,316.65 L144.81,317.31 L144.92,317.85 L145.04,318.26 L145.16,318.55 L145.28,318.71 L145.39,318.75 L145.51,318.67 L145.63,318.49 L145.74,318.23 L145.86,317.90 L145.98,317.53 L146.33,316.32 L146.45,315.95 L146.56,315.63 L146.68,315.37 L146.80,315.18 L146.91,315.08 L147.03,315.06 L147.15,315.13 L147.26,315.28 L147.38,315.52 L147.50,315.83 L147.61,316.20 L147.73,316.64 L147.85,317.11 L148.20,318.64 L148.43,319.61 L148.55,320.04 L148.67,320.41 L148.78,320.72 L148.90,320.96 L149.02,321.12 L149.13,321.19 L149.25,321.18 L149.37,321.08 L149.49,320.89 L149.60,320.62 L149.72,320.27 L149.84,319.85 L149.95,319.36 L150.07,318.81 L150.30,317.58 L150.89,314.16 L151.12,312.89 L151.24,312.31 L151.36,311.79 L151.47,311.32 L151.59,310.92 L151.71,310.59 L151.82,310.33 L151.94,310.16 L152.06,310.06 L152.18,310.05 L152.29,310.12 L152.41,310.27 L152.53,310.49 L152.64,310.79 L152.76,311.15 L152.88,311.56 L152.99,312.02 L153.23,313.05 L153.58,314.66 L153.70,315.18 L153.81,315.66 L153.93,316.09 L154.05,316.48 L154.16,316.80 L154.28,317.05 L154.40,317.23 L154.51,317.33 L154.63,317.35 L154.75,317.29 L154.86,317.17 L154.98,316.97 L155.10,316.71 L155.22,316.40 L155.33,316.05 L155.45,315.67 L155.80,314.50 L155.92,314.14 L156.03,313.82 L156.15,313.55 L156.27,313.33 L156.39,313.19 L156.50,313.11 L156.62,313.11 L156.74,313.19 L156.85,313.33 L156.97,313.55 L157.09,313.82 L157.20,314.15 L157.32,314.51 L157.44,314.91 L157.79,316.12 L157.91,316.49 L158.02,316.82 L158.14,317.10 L158.26,317.32 L158.37,317.48 L158.49,317.57 L158.61,317.60 L158.72,317.55 L158.84,317.45 L158.96,317.29 L159.07,317.08 L159.19,316.84 L159.54,316.05 L159.66,315.80 L159.78,315.60 L159.89,315.44 L160.01,315.33 L160.13,315.30 L160.24,315.34 L160.36,315.47 L160.48,315.67 L160.59,315.96 L160.71,316.33 L160.83,316.76 L160.95,317.27 L161.06,317.82 L161.18,318.42 L161.53,320.32 L161.76,321.53 L161.88,322.09 L162.00,322.59 L162.12,323.04 L162.23,323.42 L162.35,323.72 L162.47,323.95 L162.58,324.10 L162.70,324.18 L162.82,324.19 L162.93,324.14 L163.05,324.02 L163.17,323.86 L163.28,323.65 L163.40,323.41 L163.52,323.14 L164.10,321.67 L164.34,321.13 L164.45,320.88 L164.57,320.64 L164.80,320.19 L165.27,319.36 L165.51,318.93 L165.74,318.48 L166.09,317.76 L166.32,317.31 L166.44,317.12 L166.56,316.94 L166.68,316.80 L166.79,316.71 L166.91,316.66 L167.03,316.66 L167.14,316.72 L167.26,316.85 L167.38,317.04 L167.49,317.30 L167.61,317.63 L167.73,318.02 L167.85,318.46 L167.96,318.95 L168.08,319.48 L168.55,321.71 L168.66,322.22 L168.78,322.68 L168.90,323.07 L169.01,323.37 L169.13,323.57 L169.25,323.65 L169.37,323.61 L169.48,323.44 L169.60,323.13 L169.72,322.68 L169.83,322.09 L169.95,321.38 L170.07,320.55 L170.18,319.61 L170.30,318.59 L170.77,314.15 L170.89,313.09 L171.00,312.11 L171.12,311.24 L171.24,310.51 L171.35,309.94 L171.47,309.56 L171.59,309.38 L171.70,309.41 L171.82,309.66 L171.94,310.14 L172.06,310.82 L172.17,311.69 L172.29,312.73 L172.41,313.92 L172.52,315.21 L172.87,319.27 L172.99,320.52 L173.11,321.64 L173.22,322.57 L173.34,323.27 L173.46,323.71 L173.58,323.83 L173.69,323.63 L173.81,323.08 L173.93,322.19 L174.04,320.95 L174.16,319.40 L174.28,317.56 L174.39,315.48 L174.51,313.22 L174.86,306.02 L174.98,303.75 L175.10,301.68 L175.21,299.88 L175.33,298.44 L175.45,297.41 L175.56,296.84 L175.68,296.77 L175.80,297.22 L175.91,298.19 L176.03,299.66 L176.15,301.57 L176.26,303.88 L176.38,306.49 L176.73,315.09 L176.85,317.78 L176.97,320.15 L177.08,322.06 L177.20,323.37 L177.32,323.97 L177.43,323.74 L177.55,322.60 L177.67,320.48 L177.79,317.33 L177.90,313.17 L178.02,308.00 L178.14,301.89 L178.25,294.93 L178.37,287.23 L178.49,278.93 L178.95,243.43 L179.07,235.00 L179.19,227.15 L179.31,220.08 L179.42,213.97 L179.54,208.97 L179.66,205.21 L179.77,202.79 L179.89,201.75 L180.01,202.13 L180.12,203.91 L180.24,207.03 L180.36,211.42 L180.47,216.96 L180.59,223.49 L180.71,230.86 L180.94,247.33 L181.29,273.38 L181.41,281.64 L181.53,289.40 L181.64,296.53 L181.76,302.89 L181.88,308.41 L181.99,313.03 L182.11,316.71 L182.23,319.46 L182.35,321.30 L182.46,322.29 L182.58,322.51 L182.70,322.04 L182.81,321.01 L182.93,319.53 L183.05,317.72 L183.40,311.54 L183.52,309.61 L183.63,307.90 L183.75,306.49 L183.87,305.42 L183.98,304.74 L184.10,304.46 L184.22,304.59 L184.33,305.10 L184.45,305.97 L184.57,307.15 L184.68,308.59 L184.80,310.22 L185.15,315.65 L185.27,317.42 L185.39,319.06 L185.50,320.53 L185.62,321.79 L185.74,322.80 L185.85,323.54 L185.97,324.00 L186.09,324.18 L186.20,324.09 L186.32,323.74 L186.44,323.16 L186.56,322.39 L186.67,321.45 L186.79,320.40 L187.14,316.90 L187.37,314.69 L187.49,313.73 L187.61,312.90 L187.72,312.22 L187.84,311.70 L187.96,311.35 L188.08,311.17 L188.19,311.17 L188.31,311.34 L188.43,311.66 L188.54,312.11 L188.66,312.70 L188.78,313.38 L188.89,314.15 L189.13,315.85 L189.48,318.51 L189.71,320.14 L189.83,320.87 L189.95,321.53 L190.06,322.12 L190.18,322.62 L190.30,323.03 L190.41,323.36 L190.53,323.59 L190.65,323.73 L190.77,323.79 L190.88,323.76 L191.00,323.66 L191.12,323.47 L191.23,323.22 L191.35,322.91 L191.47,322.53 L191.58,322.11 L191.70,321.65 L191.93,320.62 L192.40,318.46 L192.52,317.96 L192.64,317.50 L192.75,317.08 L192.87,316.72 L192.99,316.43 L193.10,316.21 L193.22,316.07 L193.34,316.03 L193.46,316.07 L193.57,316.20 L193.69,316.43 L193.81,316.73 L193.92,317.12 L194.04,317.57 L194.16,318.07 L194.62,320.25 L194.74,320.74 L194.86,321.15 L194.98,321.47 L195.09,321.69 L195.21,321.77 L195.33,321.71 L195.44,321.50 L195.56,321.13 L195.68,320.59 L195.79,319.90 L195.91,319.06 L196.03,318.08 L196.14,316.99 L196.26,315.81 L196.61,312.05 L196.73,310.84 L196.85,309.70 L196.96,308.69 L197.08,307.82 L197.20,307.13 L197.31,306.65 L197.43,306.40 L197.55,306.38 L197.66,306.61 L197.78,307.08 L197.90,307.77 L198.02,308.68 L198.13,309.78 L198.25,311.03 L198.37,312.40 L198.72,316.74 L198.83,318.12 L198.95,319.38 L199.07,320.48 L199.19,321.38 L199.30,322.05 L199.42,322.47 L199.54,322.61 L199.65,322.47 L199.77,322.05 L199.89,321.37 L200.00,320.43 L200.12,319.28 L200.24,317.93 L200.35,316.44 L200.71,311.57 L200.94,308.50 L201.06,307.15 L201.17,305.99 L201.29,305.05 L201.41,304.35 L201.52,303.91 L201.64,303.74 L201.76,303.84 L201.87,304.21 L201.99,304.82 L202.11,305.65 L202.23,306.68 L202.34,307.86 L202.46,309.16 L202.93,314.71 L203.04,315.99 L203.16,317.15 L203.28,318.17 L203.39,319.03 L203.51,319.71 L203.63,320.21 L203.75,320.53 L203.86,320.67 L203.98,320.64 L204.10,320.47 L204.21,320.16 L204.33,319.75 L204.45,319.26 L204.80,317.60 L204.92,317.08 L205.03,316.61 L205.15,316.21 L205.27,315.91 L205.38,315.71 L205.50,315.62 L205.62,315.64 L205.73,315.78 L205.85,316.03 L205.97,316.38 L206.08,316.81 L206.20,317.31 L206.32,317.87 L206.79,320.25 L206.90,320.78 L207.02,321.24 L207.14,321.63 L207.25,321.92 L207.37,322.11 L207.49,322.18 L207.60,322.12 L207.72,321.94 L207.84,321.64 L207.96,321.20 L208.07,320.65 L208.19,319.98 L208.31,319.20 L208.42,318.32 L208.54,317.36 L208.66,316.33 L208.89,314.12 L209.24,310.68 L209.48,308.50 L209.59,307.49 L209.71,306.57 L209.83,305.74 L209.94,305.02 L210.06,304.41 L210.18,303.94 L210.29,303.60 L210.41,303.41 L210.53,303.37 L210.65,303.48 L210.76,303.74 L210.88,304.14 L211.00,304.69 L211.11,305.36 L211.23,306.16 L211.35,307.06 L211.46,308.05 L211.58,309.11 L212.05,313.60 L212.17,314.67 L212.28,315.68 L212.40,316.60 L212.52,317.42 L212.63,318.11 L212.75,318.67 L212.87,319.09 L212.98,319.35 L213.10,319.46 L213.22,319.41 L213.33,319.23 L213.45,318.90 L213.57,318.46 L213.69,317.91 L213.80,317.28 L214.27,314.44 L214.39,313.78 L214.50,313.19 L214.62,312.69 L214.74,312.29 L214.86,312.02 L214.97,311.89 L215.09,311.89 L215.21,312.04 L215.32,312.31 L215.44,312.72 L215.56,313.23 L215.67,313.84 L215.79,314.52 L216.26,317.47 L216.38,318.13 L216.49,318.71 L216.61,319.20 L216.73,319.56 L216.84,319.80 L216.96,319.91 L217.08,319.88 L217.19,319.71 L217.31,319.42 L217.43,319.02 L217.54,318.53 L217.66,317.96 L218.13,315.45 L218.25,314.90 L218.36,314.43 L218.48,314.06 L218.60,313.81 L218.71,313.69 L218.83,313.71 L218.95,313.87 L219.06,314.17 L219.18,314.60 L219.30,315.16 L219.42,315.82 L219.53,316.57 L219.65,317.38 L220.12,320.77 L220.23,321.53 L220.35,322.21 L220.47,322.79 L220.59,323.26 L220.70,323.60 L220.82,323.82 L220.94,323.91 L221.05,323.88 L221.17,323.73 L221.29,323.46 L221.40,323.11 L221.52,322.67 L221.64,322.18 L222.11,319.99 L222.22,319.48 L222.34,319.01 L222.46,318.60 L222.57,318.26 L222.69,317.99 L222.81,317.80 L222.92,317.68 L223.04,317.62 L223.16,317.64 L223.27,317.71 L223.39,317.82 L223.51,317.97 L223.63,318.15 L223.98,318.70 L224.09,318.86 L224.21,319.00 L224.33,319.11 L224.44,319.18 L224.56,319.22 L224.68,319.23 L224.79,319.21 L224.91,319.17 L225.26,319.00 L225.38,318.96 L225.50,318.94 L225.61,318.95 L225.73,319.00 L225.85,319.09 L225.96,319.24 L226.08,319.43 L226.20,319.68 L226.32,319.98 L226.43,320.32 L226.55,320.69 L227.02,322.32 L227.13,322.68 L227.25,322.99 L227.37,323.24 L227.48,323.40 L227.60,323.46 L227.72,323.41 L227.84,323.23 L227.95,322.93 L228.07,322.49 L228.19,321.91 L228.30,321.20 L228.42,320.37 L228.54,319.43 L228.65,318.39 L228.77,317.27 L229.24,312.54 L229.36,311.44 L229.47,310.43 L229.59,309.54 L229.71,308.81 L229.82,308.25 L229.94,307.89 L230.06,307.74 L230.17,307.82 L230.29,308.12 L230.41,308.65 L230.53,309.39 L230.64,310.32 L230.76,311.43 L230.88,312.69 L231.34,318.28 L231.46,319.58 L231.58,320.74 L231.69,321.72 L231.81,322.46 L231.93,322.92 L232.05,323.08 L232.16,322.90 L232.28,322.37 L232.40,321.50 L232.51,320.28 L232.63,318.74 L232.75,316.91 L232.86,314.84 L232.98,312.58 L233.33,305.35 L233.45,303.06 L233.57,300.95 L233.68,299.11 L233.80,297.60 L233.92,296.50 L234.03,295.85 L234.15,295.70 L234.27,296.05 L234.38,296.91 L234.50,298.27 L234.62,300.08 L234.73,302.29 L234.85,304.82 L235.20,313.34 L235.32,316.09 L235.44,318.58 L235.55,320.67 L235.67,322.24 L235.79,323.17 L235.90,323.36 L236.02,322.72 L236.14,321.19 L236.26,318.73 L236.37,315.34 L236.49,311.02 L236.61,305.84 L236.72,299.86 L236.84,293.20 L237.07,278.36 L237.42,254.81 L237.54,247.36 L237.66,240.43 L237.78,234.18 L237.89,228.79 L238.01,224.37 L238.13,221.06 L238.24,218.93 L238.36,218.03 L238.48,218.39 L238.59,219.98 L238.71,222.77 L238.83,226.67 L238.94,231.57 L239.06,237.35 L239.18,243.85 L239.30,250.90 L239.76,281.03 L239.88,288.18 L240.00,294.86 L240.11,300.94 L240.23,306.34 L240.35,310.97 L240.46,314.78 L240.58,317.76 L240.70,319.91 L240.82,321.27 L240.93,321.88 L241.05,321.82 L241.17,321.18 L241.28,320.06 L241.40,318.57 L241.52,316.82 L241.87,311.13 L241.99,309.42 L242.10,307.94 L242.22,306.74 L242.34,305.88 L242.45,305.39 L242.57,305.27 L242.69,305.52 L242.80,306.12 L242.92,307.04 L243.04,308.23 L243.15,309.65 L243.27,311.24 L243.74,318.01 L243.86,319.53 L243.97,320.87 L244.09,322.00 L244.21,322.90 L244.32,323.54 L244.44,323.93 L244.56,324.05 L244.67,323.92 L244.79,323.56 L244.91,322.99 L245.03,322.25 L245.14,321.35 L245.26,320.35 L245.61,317.05 L245.84,314.97 L245.96,314.06 L246.08,313.26 L246.19,312.59 L246.31,312.07 L246.43,311.70 L246.55,311.48 L246.66,311.41 L246.78,311.49 L246.90,311.71 L247.01,312.05 L247.13,312.51 L247.25,313.06 L247.36,313.68 L247.48,314.37 L247.60,315.10 L248.07,318.18 L248.30,319.62 L248.42,320.28 L248.53,320.89 L248.65,321.44 L248.77,321.94 L248.88,322.38 L249.00,322.75 L249.12,323.06 L249.24,323.30 L249.35,323.47 L249.47,323.58 L249.59,323.62 L249.70,323.59 L249.82,323.50 L249.94,323.34 L250.05,323.13 L250.17,322.86 L250.29,322.54 L250.40,322.18 L250.52,321.78 L250.64,321.34 L251.11,319.52 L251.22,319.10 L251.34,318.72 L251.46,318.39 L251.57,318.11 L251.69,317.91 L251.81,317.79 L251.93,317.74 L252.04,317.79 L252.16,317.92 L252.28,318.13 L252.39,318.41 L252.51,318.76 L252.63,319.15 L252.98,320.44 L253.09,320.82 L253.21,321.14 L253.33,321.36 L253.45,321.47 L253.56,321.43 L253.68,321.24 L253.80,320.86 L253.91,320.29 L254.03,319.52 L254.15,318.56 L254.26,317.40 L254.38,316.06 L254.50,314.56 L254.73,311.20 L255.08,305.83 L255.20,304.13 L255.32,302.57 L255.43,301.18 L255.55,300.01 L255.67,299.10 L255.78,298.48 L255.90,298.18 L256.02,298.22 L256.13,298.61 L256.25,299.33 L256.37,300.38 L256.49,301.74 L256.60,303.36 L256.72,305.21 L256.84,307.23 L257.30,315.83 L257.42,317.79 L257.54,319.55 L257.66,321.05 L257.77,322.25 L257.89,323.11 L258.01,323.61 L258.12,323.73 L258.24,323.46 L258.36,322.82 L258.47,321.84 L258.59,320.54 L258.71,318.97 L258.82,317.18 L258.94,315.23 L259.29,309.07 L259.41,307.14 L259.53,305.36 L259.64,303.80 L259.76,302.51 L259.88,301.51 L259.99,300.84 L260.11,300.51 L260.23,300.53 L260.34,300.88 L260.46,301.56 L260.58,302.54 L260.70,303.77 L260.81,305.22 L260.93,306.83 L261.40,313.93 L261.51,315.60 L261.63,317.15 L261.75,318.53 L261.86,319.71 L261.98,320.68 L262.10,321.42 L262.22,321.94 L262.33,322.23 L262.45,322.30 L262.57,322.18 L262.68,321.89 L262.80,321.45 L262.92,320.91 L263.03,320.29 L263.39,318.30 L263.50,317.71 L263.62,317.19 L263.74,316.78 L263.85,316.47 L263.97,316.30 L264.09,316.25 L264.20,316.34 L264.32,316.55 L264.44,316.87 L264.55,317.30 L264.67,317.80 L264.79,318.37 L265.14,320.22 L265.26,320.79 L265.37,321.31 L265.49,321.75 L265.61,322.09 L265.72,322.31 L265.84,322.39 L265.96,322.33 L266.07,322.12 L266.19,321.75 L266.31,321.21 L266.43,320.52 L266.54,319.67 L266.66,318.68 L266.78,317.55 L266.89,316.30 L267.01,314.95 L267.24,311.99 L267.83,304.15 L268.06,301.32 L268.18,300.06 L268.30,298.94 L268.41,297.97 L268.53,297.17 L268.65,296.56 L268.76,296.15 L268.88,295.94 L269.00,295.95 L269.12,296.18 L269.23,296.63 L269.35,297.30 L269.47,298.17 L269.58,299.23 L269.70,300.47 L269.82,301.87 L269.93,303.39 L270.17,306.74 L270.64,313.68 L270.75,315.26 L270.87,316.73 L270.99,318.04 L271.10,319.18 L271.22,320.11 L271.34,320.83 L271.45,321.33 L271.57,321.59 L271.69,321.63 L271.80,321.45 L271.92,321.06 L272.04,320.48 L272.16,319.75 L272.27,318.88 L272.39,317.92 L272.74,314.81 L272.86,313.83 L272.97,312.94 L273.09,312.18 L273.21,311.56 L273.33,311.11 L273.44,310.84 L273.56,310.78 L273.68,310.91 L273.79,311.24 L273.91,311.74 L274.03,312.41 L274.14,313.22 L274.26,314.14 L274.73,318.18 L274.85,319.10 L274.96,319.91 L275.08,320.58 L275.20,321.09 L275.31,321.42 L275.43,321.57 L275.55,321.51 L275.66,321.27 L275.78,320.84 L275.90,320.26 L276.01,319.53 L276.13,318.70 L276.60,314.96 L276.72,314.11 L276.83,313.36 L276.95,312.75 L277.07,312.30 L277.18,312.02 L277.30,311.94 L277.42,312.04 L277.53,312.34 L277.65,312.82 L277.77,313.46 L277.89,314.25 L278.00,315.14 L278.12,316.13 L278.47,319.23 L278.59,320.20 L278.70,321.08 L278.82,321.85 L278.94,322.47 L279.06,322.94 L279.17,323.23 L279.29,323.35 L279.41,323.29 L279.52,323.05 L279.64,322.65 L279.76,322.12 L279.87,321.46 L279.99,320.70 L280.11,319.87 L280.46,317.28 L280.58,316.48 L280.69,315.75 L280.81,315.11 L280.93,314.58 L281.04,314.18 L281.16,313.92 L281.28,313.78 L281.39,313.79 L281.51,313.92 L281.63,314.17 L281.74,314.53 L281.86,314.98 L281.98,315.50 L282.10,316.07 L282.45,317.89 L282.68,319.02 L282.80,319.52 L282.91,319.96 L283.03,320.34 L283.15,320.64 L283.26,320.89 L283.38,321.07 L283.50,321.20 L283.62,321.28 L283.73,321.32 L283.85,321.34 L284.08,321.35 L284.20,321.37 L284.32,321.40 L284.43,321.46 L284.55,321.56 L284.67,321.68 L284.79,321.85 L284.90,322.04 L285.02,322.26 L285.37,323.00 L285.49,323.23 L285.60,323.42 L285.72,323.56 L285.84,323.63 L285.95,323.62 L286.07,323.51 L286.19,323.29 L286.31,322.95 L286.42,322.49 L286.54,321.89 L286.66,321.17 L286.77,320.32 L286.89,319.35 L287.01,318.28 L287.24,315.90 L287.71,310.85 L287.83,309.70 L287.94,308.66 L288.06,307.74 L288.18,306.99 L288.29,306.43 L288.41,306.07 L288.53,305.93 L288.64,306.02 L288.76,306.34 L288.88,306.88 L289.00,307.64 L289.11,308.60 L289.23,309.73 L289.35,311.00 L289.81,316.66 L289.93,317.99 L290.05,319.18 L290.16,320.19 L290.28,320.96 L290.40,321.48 L290.52,321.69 L290.63,321.58 L290.75,321.14 L290.87,320.36 L290.98,319.25 L291.10,317.83 L291.22,316.13 L291.33,314.20 L291.45,312.08 L291.92,303.08 L292.04,301.07 L292.15,299.30 L292.27,297.84 L292.39,296.76 L292.50,296.09 L292.62,295.88 L292.74,296.15 L292.85,296.89 L292.97,298.10 L293.09,299.74 L293.20,301.76 L293.32,304.10 L293.79,314.72 L293.91,317.15 L294.02,319.25 L294.14,320.91 L294.26,322.02 L294.37,322.49 L294.49,322.25 L294.61,321.24 L294.73,319.42 L294.84,316.79 L294.96,313.35 L295.08,309.16 L295.19,304.28 L295.31,298.81 L295.54,286.53 L295.89,267.01 L296.01,260.85 L296.13,255.14 L296.25,250.01 L296.36,245.62 L296.48,242.07 L296.60,239.46 L296.71,237.85 L296.83,237.30 L296.95,237.80 L297.06,239.35 L297.18,241.89 L297.30,245.35 L297.41,249.63 L297.53,254.62 L297.65,260.18 L297.77,266.17 L298.12,285.10 L298.35,297.04 L298.47,302.39 L298.58,307.21 L298.70,311.39 L298.82,314.90 L298.93,317.69 L299.05,319.75 L299.17,321.11 L299.29,321.79 L299.40,321.86 L299.52,321.37 L299.64,320.42 L299.75,319.10 L299.87,317.51 L300.22,312.09 L300.34,310.38 L300.46,308.85 L300.57,307.56 L300.69,306.57 L300.81,305.91 L300.92,305.59 L301.04,305.62 L301.16,305.99 L301.27,306.68 L301.39,307.65 L301.51,308.86 L301.62,310.26 L301.74,311.80 L302.09,316.66 L302.21,318.18 L302.33,319.58 L302.44,320.81 L302.56,321.84 L302.68,322.66 L302.79,323.24 L302.91,323.58 L303.03,323.69 L303.14,323.58 L303.26,323.25 L303.38,322.74 L303.50,322.07 L303.61,321.27 L303.85,319.42 L304.20,316.48 L304.31,315.57 L304.43,314.74 L304.55,314.01 L304.66,313.38 L304.78,312.88 L304.90,312.50 L305.02,312.25 L305.13,312.12 L305.25,312.12 L305.37,312.23 L305.48,312.44 L305.60,312.75 L305.72,313.14 L305.83,313.60 L305.95,314.12 L306.07,314.68 L306.30,315.90 L306.89,319.07 L307.12,320.24 L307.35,321.30 L307.47,321.78 L307.59,322.21 L307.71,322.60 L307.82,322.94 L307.94,323.23 L308.06,323.47 L308.17,323.64 L308.29,323.76 L308.41,323.81 L308.52,323.80 L308.64,323.72 L308.76,323.58 L308.87,323.38 L308.99,323.13 L309.11,322.82 L309.23,322.48 L309.34,322.10 L309.69,320.91 L309.81,320.54 L309.93,320.20 L310.04,319.90 L310.16,319.67 L310.28,319.51 L310.40,319.42 L310.51,319.41 L310.63,319.48 L310.75,319.64 L310.86,319.86 L310.98,320.15 L311.10,320.48 L311.33,321.19 L311.45,321.52 L311.56,321.79 L311.68,321.99 L311.80,322.06 L311.92,322.00 L312.03,321.76 L312.15,321.32 L312.27,320.66 L312.38,319.78 L312.50,318.66 L312.62,317.29 L312.73,315.70 L312.85,313.89 L312.97,311.89 L313.08,309.73 L313.55,300.45 L313.67,298.23 L313.79,296.19 L313.90,294.36 L314.02,292.81 L314.14,291.60 L314.25,290.75 L314.37,290.31 L314.49,290.29 L314.60,290.71 L314.72,291.57 L314.84,292.85 L314.96,294.53 L315.07,296.56 L315.19,298.89 L315.42,304.19 L315.77,312.63 L315.89,315.24 L316.01,317.64 L316.13,319.73 L316.24,321.48 L316.36,322.82 L316.48,323.72 L316.59,324.15 L316.71,324.12 L316.83,323.63 L316.94,322.70 L317.06,321.37 L317.18,319.69 L317.29,317.72 L317.41,315.52 L317.88,306.07 L318.00,303.94 L318.11,302.03 L318.23,300.42 L318.35,299.14 L318.46,298.24 L318.58,297.74 L318.70,297.64 L318.81,297.95 L318.93,298.64 L319.05,299.69 L319.17,301.06 L319.28,302.69 L319.40,304.54 L319.98,314.87 L320.10,316.74 L320.22,318.43 L320.33,319.90 L320.45,321.13 L320.57,322.10 L320.69,322.80 L320.80,323.24 L320.92,323.42 L321.04,323.37 L321.15,323.12 L321.27,322.68 L321.39,322.11 L321.50,321.44 L321.86,319.18 L321.97,318.48 L322.09,317.85 L322.21,317.32 L322.32,316.92 L322.44,316.64 L322.56,316.51 L322.67,316.52 L322.79,316.67 L322.91,316.94 L323.02,317.32 L323.14,317.80 L323.26,318.34 L323.61,320.13 L323.73,320.68 L323.84,321.17 L323.96,321.56 L324.08,321.84 L324.19,321.99 L324.31,321.98 L324.43,321.80 L324.54,321.45 L324.66,320.92 L324.78,320.20 L324.90,319.29 L325.01,318.20 L325.13,316.95 L325.25,315.53 L325.36,313.97 L325.48,312.28 L325.71,308.61 L326.30,298.90 L326.53,295.39 L326.65,293.83 L326.77,292.43 L326.88,291.22 L327.00,290.23 L327.12,289.47 L327.23,288.96 L327.35,288.71 L327.47,288.75 L327.59,289.06 L327.70,289.65 L327.82,290.52 L327.94,291.66 L328.05,293.04 L328.17,294.67 L328.29,296.49 L328.40,298.50 L328.64,302.91 L329.11,312.14 L329.22,314.28 L329.34,316.26 L329.46,318.06 L329.57,319.63 L329.69,320.95 L329.81,321.99 L329.92,322.74 L330.04,323.20 L330.16,323.35 L330.27,323.22 L330.39,322.81 L330.51,322.16 L330.63,321.28 L330.74,320.23 L330.86,319.03 L331.33,313.83 L331.44,312.66 L331.56,311.63 L331.68,310.78 L331.80,310.14 L331.91,309.74 L332.03,309.57 L332.15,309.66 L332.26,309.99 L332.38,310.55 L332.50,311.33 L332.61,312.28 L332.73,313.38 L333.20,318.33 L333.32,319.47 L333.43,320.48 L333.55,321.33 L333.67,321.98 L333.78,322.41 L333.90,322.60 L334.02,322.54 L334.13,322.25 L334.25,321.72 L334.37,320.99 L334.48,320.08 L334.60,319.02 L335.07,314.22 L335.19,313.10 L335.30,312.12 L335.42,311.29 L335.54,310.65 L335.65,310.23 L335.77,310.05 L335.89,310.10 L336.00,310.38 L336.12,310.89 L336.24,311.61 L336.36,312.51 L336.47,313.54 L336.59,314.69 L336.94,318.31 L337.06,319.44 L337.17,320.46 L337.29,321.33 L337.41,322.02 L337.53,322.52 L337.64,322.79 L337.76,322.85 L337.88,322.68 L337.99,322.29 L338.11,321.70 L338.23,320.93 L338.34,320.02 L338.46,318.98 L338.93,314.42 L339.05,313.36 L339.16,312.41 L339.28,311.59 L339.40,310.92 L339.51,310.43 L339.63,310.12 L339.75,310.01 L339.86,310.08 L339.98,310.34 L340.10,310.77 L340.21,311.35 L340.33,312.06 L340.45,312.87 L340.68,314.72 L341.03,317.64 L341.15,318.55 L341.27,319.41 L341.38,320.18 L341.50,320.87 L341.62,321.46 L341.73,321.96 L341.85,322.36 L341.97,322.67 L342.09,322.91 L342.20,323.07 L342.32,323.18 L342.44,323.24 L342.55,323.27 L342.90,323.30 L343.02,323.33 L343.14,323.37 L343.26,323.43 L343.37,323.51 L343.49,323.61 L343.72,323.83 L343.84,323.93 L343.96,324.01 L344.07,324.05 L344.19,324.04 L344.31,323.96 L344.42,323.80 L344.54,323.55 L344.66,323.18 L344.78,322.70 L344.89,322.10 L345.01,321.38 L345.13,320.53 L345.24,319.56 L345.36,318.49 L345.48,317.32 L345.59,316.07 L346.06,310.78 L346.18,309.51 L346.30,308.33 L346.41,307.26 L346.53,306.33 L346.65,305.56 L346.76,304.98 L346.88,304.60 L347.00,304.44 L347.11,304.51 L347.23,304.80 L347.35,305.31 L347.47,306.03 L347.58,306.94 L347.70,308.01 L347.82,309.22 L348.28,314.64 L348.40,315.92 L348.52,317.07 L348.63,318.05 L348.75,318.83 L348.87,319.37 L348.99,319.63 L349.10,319.61 L349.22,319.28 L349.34,318.64 L349.45,317.71 L349.57,316.49 L349.69,315.03 L349.80,313.35 L349.92,311.51 L350.39,303.67 L350.51,301.92 L350.62,300.38 L350.74,299.12 L350.86,298.18 L350.97,297.61 L351.09,297.44 L351.21,297.69 L351.32,298.36 L351.44,299.43 L351.56,300.89 L351.67,302.68 L351.79,304.74 L351.91,307.01 L352.26,314.17 L352.38,316.35 L352.49,318.26 L352.61,319.80 L352.73,320.89 L352.84,321.45 L352.96,321.42 L353.08,320.74 L353.20,319.41 L353.31,317.40 L353.43,314.73 L353.55,311.45 L353.66,307.62 L353.78,303.30 L353.90,298.61 L354.36,278.42 L354.48,273.69 L354.60,269.34 L354.72,265.50 L354.83,262.27 L354.95,259.76 L355.07,258.01 L355.18,257.10 L355.30,257.03" stroke="#0000ff"/>
</g>
<rect x="62.95" y="187.0" width="292.35" height="137.2" fill="none" stroke="#000" stroke-width="1.8"/>
<text x="52.3" y="330.25" text-anchor="end">0</text>
<text x="52.3" y="302.81" text-anchor="end">0.2</text>
<text x="52.3" y="275.37" text-anchor="end">0.4</text>
<text x="52.3" y="247.93" text-anchor="end">0.6</text>
<text x="52.3" y="220.49" text-anchor="end">0.8</text>
<text x="52.3" y="193.05" text-anchor="end">1</text>
<text x="64.75" y="347.5" text-anchor="middle">0</text>
<text x="123.36" y="347.5" text-anchor="middle">1</text>
<text x="181.97" y="347.5" text-anchor="middle">2</text>
<text x="240.58" y="347.5" text-anchor="middle">3</text>
<text x="299.19" y="347.5" text-anchor="middle">4</text>
<text x="357.80" y="347.5" text-anchor="middle">5</text>
<text x="182.99" y="365.6">t</text>
<text transform="translate(187.82,365.6) scale(0.878,1)">ω</text>
<text x="199.76" y="365.6">/</text>
<text x="204.60" y="365.6">(</text>
<text x="210.39" y="365.6">2</text>
<text transform="translate(220.07,365.6) scale(0.796,1)">π</text>
<text x="229.62" y="365.6">)</text>
<text x="4.0" y="32.8">(a)</text>
<text x="4.0" y="192.6">(b)</text>
<text transform="translate(15.6,110.4) rotate(-90)">P<tspan dy="6.4" font-size="14px">0</tspan></text>
<text transform="translate(15.6,265.4) rotate(-90)">P<tspan dy="6.4" font-size="14px">4</tspan></text>
<rect x="63.75" y="1.8" width="291.95" height="20.45" fill="#fff" stroke="#000" stroke-width="1.0"/>
<text x="75.70" y="18">g=0.1</text>
<path d="M130.2,12.1H150.5" stroke="#ff0000" stroke-width="1.7" stroke-dasharray="1.7 2.0" fill="none"/>
<text x="173.05" y="18">g=0.7</text>
<path d="M227.6,12.1H248.0" stroke="#109610" stroke-width="1.7" stroke-dasharray="3.2 1.1" fill="none"/>
<text x="270.40" y="18">g=2.0</text>
<path d="M324.9,12.1H344.9" stroke="#0000ff" stroke-width="1.7" fill="none"/>
</svg>
</body></html>
